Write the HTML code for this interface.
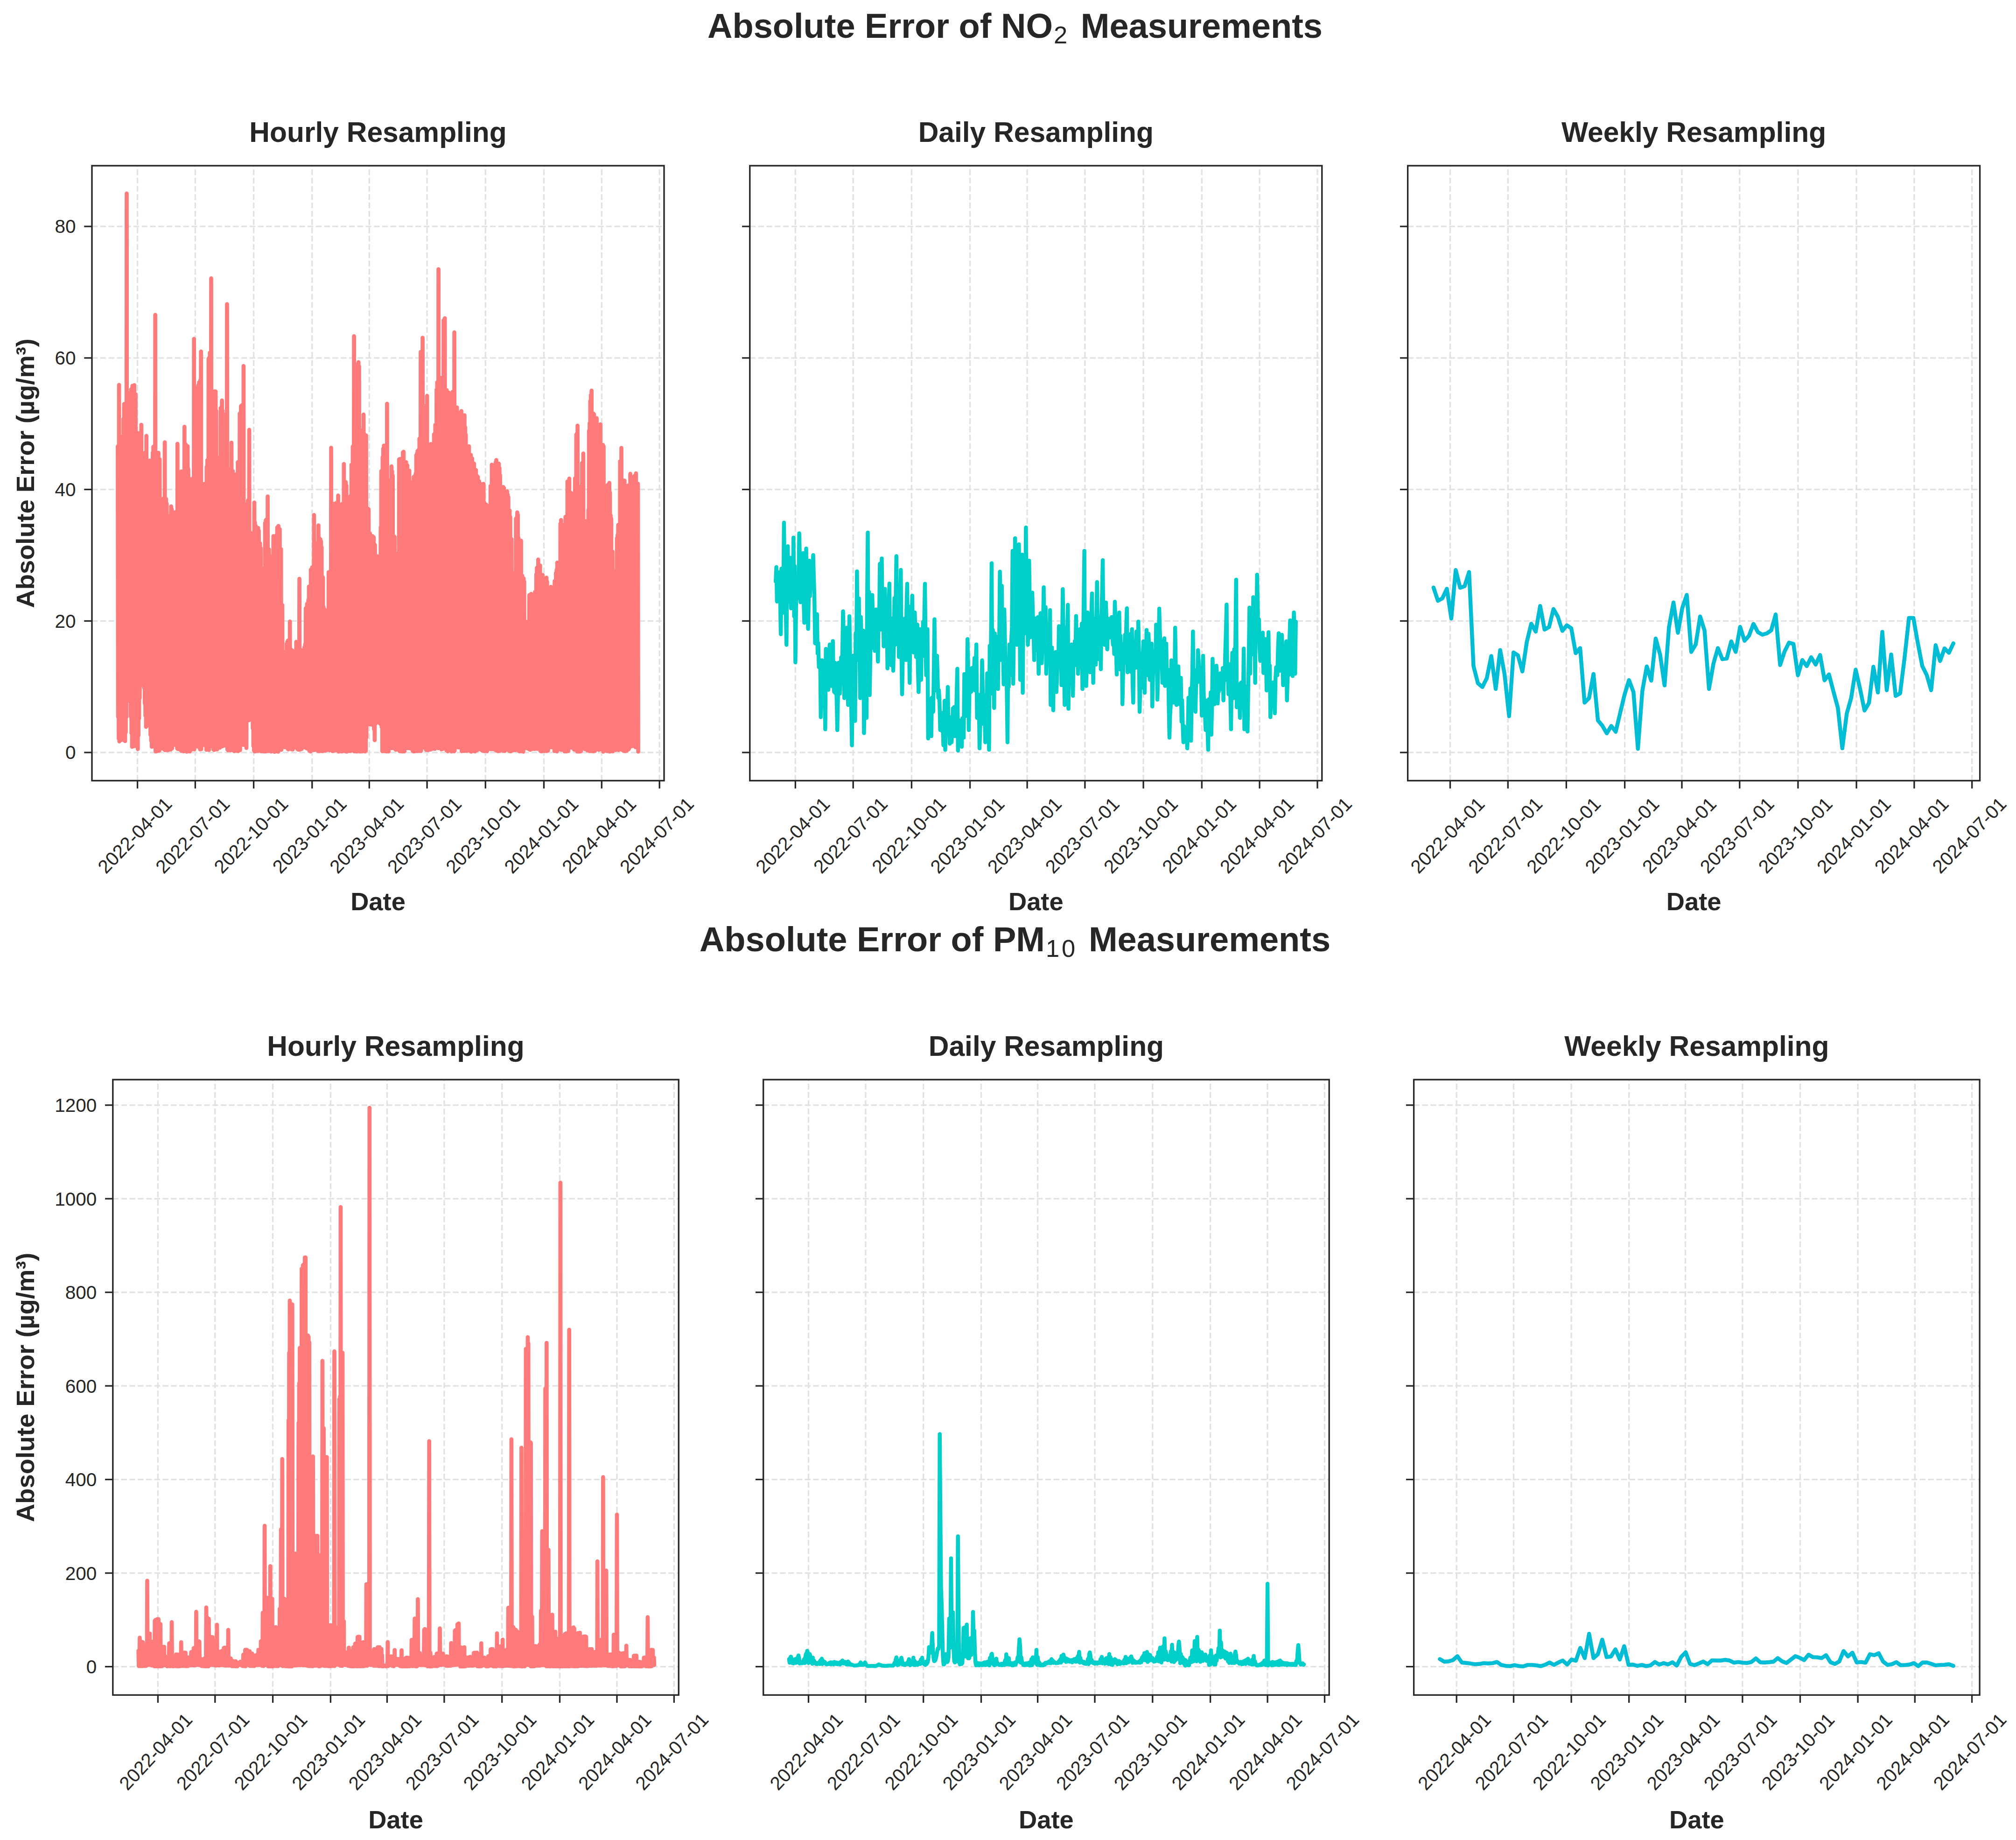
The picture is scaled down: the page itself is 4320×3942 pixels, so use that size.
<!DOCTYPE html>
<html><head><meta charset="utf-8"><title>Absolute Error</title>
<style>html,body{margin:0;padding:0;background:#fff}svg{display:block}</style></head>
<body>
<svg width="4320" height="3942" viewBox="0 0 4320 3942" font-family="'Liberation Sans', sans-serif" fill="#262626">
<rect width="4320" height="3942" fill="#fff"/>
<path d="M294.6 1672.5V355M418.4 1672.5V355M543.6 1672.5V355M668.8 1672.5V355M791.3 1672.5V355M915.1 1672.5V355M1040.3 1672.5V355M1165.5 1672.5V355M1289.3 1672.5V355M1413.2 1672.5V355M197 1612.1H1423M197 1330.3H1423M197 1048.6H1423M197 766.8H1423M197 485.1H1423" stroke="#e2e2e2" stroke-width="3.33" stroke-dasharray="12.4 5.37" fill="none"/>
<clipPath id="c1"><rect x="197" y="355" width="1226" height="1317.5"/></clipPath>
<g clip-path="url(#c1)">
<path d="M252.4 956.2L253.1 1535.9L253.8 960.5L254.5 1582.7L255.1 824.7L255.8 1588.5L256.5 947.2L257.2 1585.9L257.9 948.9L258.5 1586L259.2 952.2L259.9 1584.2L260.6 935.7L261.3 1584.9L261.9 952.2L262.6 1582.5L263.3 957.1L264 1584.2L264.7 897L265.3 1583.4L266 865.5L266.7 1586.5L267.4 874.9L268.1 1587.7L268.7 865.3L269.4 1569L270.1 897.7L270.8 1536.2L271.5 414.7L272.1 1502.2L272.8 868L273.5 1490L274.2 910.1L274.9 1492.9L275.5 909.3L276.2 1493.6L276.9 895.4L277.6 1494.1L278.3 893.7L279 1500.8L279.6 840.9L280.3 1534.9L281 834.2L281.7 1570.8L282.4 858.2L283 1599.9L283.7 826.6L284.4 1599L285.1 832.8L285.8 1598.8L286.4 835.2L287.1 1597.3L287.8 825.2L288.5 1597.7L289.2 845.7L289.8 1598.2L290.5 844.6L291.2 1594.5L291.9 941L292.6 1595.3L293.2 927.3L293.9 1595.8L294.6 934L295.3 1604.7L296 928L296.6 1575.8L297.3 969.3L298 1539.5L298.7 961.1L299.4 1495.6L300 953.9L300.7 1458.6L301.4 982.8L302.1 1458.6L302.8 910.1L303.4 1460.1L304.1 999.7L304.8 1465.3L305.5 994.6L306.2 1467.7L306.8 979.4L307.5 1468.3L308.2 976.1L308.9 1473.6L309.6 978.4L310.2 1507L310.9 969.9L311.6 1533.3L312.3 996.8L313 1557.2L313.7 933.9L314.3 1552L315 1018.5L315.7 1544.2L316.4 1001.2L317.1 1540.1L317.7 1022.7L318.4 1541.3L319.1 1018.5L319.8 1535.3L320.5 986.8L321.1 1555.4L321.8 996.2L322.5 1574.2L323.2 1022.4L323.9 1587L324.5 1006L325.2 1599.9L325.9 992.8L326.6 1599.5L327.3 969.8L327.9 1594.8L328.6 957L329.3 1593.8L330 979L330.7 1595L331.3 984.9L332 1593.6L332.7 674.5L333.4 1609.8L334.1 968.9L334.7 1610L335.4 978.5L336.1 1608.3L336.8 1003L337.5 1609L338.1 995L338.8 1607.6L339.5 970.1L340.2 1608.5L340.9 989.6L341.5 1608.2L342.2 984.1L342.9 1600.4L343.6 1068.6L344.3 1601L344.9 1092.7L345.6 1601.4L346.3 1141.7L347 1601.5L347.7 1080.2L348.4 1603.3L349 1076.5L349.7 1602.4L350.4 1068L351.1 1602.3L351.8 1085.9L352.4 1606.1L353.1 947.6L353.8 1607.2L354.5 1086.1L355.2 1606.8L355.8 1068.8L356.5 1606.9L357.2 1078.8L357.9 1607.5L358.6 1104.1L359.2 1605.6L359.9 1105.9L360.6 1607L361.3 1126L362 1606.2L362.6 1120.8L363.3 1605.1L364 1105.4L364.7 1604.7L365.4 1123.3L366 1605.8L366.7 1084.8L367.4 1604L368.1 1090.6L368.8 1603.2L369.4 1105.4L370.1 1593.6L370.8 1098.6L371.5 1592.9L372.2 1155.7L372.8 1594L373.5 1180.2L374.2 1595.7L374.9 1097.7L375.6 1593.8L376.2 1099.1L376.9 1593.4L377.6 1115.2L378.3 1595.3L379 1101.3L379.7 1603.6L380.3 950.9L381 1604.7L381.7 1047.9L382.4 1602.9L383.1 1048.5L383.7 1604.6L384.4 1065.2L385.1 1604.3L385.8 1053.7L386.5 1605.3L387.1 1109.8L387.8 1607.7L388.5 1010.2L389.2 1608.8L389.9 1013.3L390.5 1608.7L391.2 1031.9L391.9 1608.7L392.6 1014.4L393.3 1609.6L393.9 1017.7L394.6 1607.7L395.3 914.4L396 1607.4L396.7 953.3L397.3 1608L398 952.2L398.7 1607.6L399.4 982.3L400.1 1610.4L400.7 978.7L401.4 1608.3L402.1 956L402.8 1609.3L403.5 1005.1L404.1 1608.1L404.8 1025.4L405.5 1609.3L406.2 1032.8L406.9 1609.9L407.5 1026.3L408.2 1606L408.9 1053.1L409.6 1606.1L410.3 1050.7L410.9 1605.6L411.6 1040.8L412.3 1603.2L413 1034.3L413.7 1603.4L414.4 1023L415 1604.2L415.7 726L416.4 1605.3L417.1 864.7L417.8 1597.2L418.4 830.2L419.1 1598.1L419.8 852.4L420.5 1598L421.2 831.1L421.8 1597.6L422.5 858.1L423.2 1599.4L423.9 839.4L424.6 1598.7L425.2 824.8L425.9 1599.8L426.6 819.2L427.3 1598.3L428 845.4L428.6 1605.3L429.3 814L430 1604.3L430.7 753L431.4 1605L432 1047.1L432.7 1597.5L433.4 1057.4L434.1 1595.3L434.8 1049L435.4 1595.5L436.1 1037.3L436.8 1595.3L437.5 1059.7L438.2 1596.5L438.8 1042.7L439.5 1596.2L440.2 1036.2L440.9 1597.4L441.6 1044.9L442.2 1606.3L442.9 1000.3L443.6 1606.1L444.3 985.8L445 1605.9L445.6 990.1L446.3 1605.9L447 767.9L447.7 1606.7L448.4 778.4L449.1 1597.6L449.7 755.6L450.4 1598.9L451.1 767.6L451.8 1598.8L452.5 596.4L453.1 1598.5L453.8 877.8L454.5 1597.4L455.2 862.7L455.9 1598.6L456.5 864.3L457.2 1605.4L457.9 859.3L458.6 1606.6L459.3 838.5L459.9 1603.9L460.6 839.4L461.3 1605.7L462 838.6L462.7 1604.8L463.3 880.1L464 1605.3L464.7 1006.8L465.4 1605.5L466.1 1016.7L466.7 1601.3L467.4 981L468.1 1600.4L468.8 988.7L469.5 1602L470.1 982.7L470.8 1601.8L471.5 992.3L472.2 1600.9L472.9 874L473.5 1596.3L474.2 904.7L474.9 1597.8L475.6 858.2L476.3 1598.9L476.9 879.6L477.6 1596.5L478.3 888.2L479 1597.6L479.7 897.2L480.3 1597.3L481 889.8L481.7 1596.4L482.4 888.3L483.1 1593.5L483.8 892.3L484.4 1593.1L485.1 897.9L485.8 1594.6L486.5 651.7L487.2 1605.6L487.8 1015.6L488.5 1607.4L489.2 1023.6L489.9 1605.8L490.6 1022.5L491.2 1606.3L491.9 1005.6L492.6 1605.3L493.3 1019.5L494 1607.7L494.6 1022.2L495.3 1605.7L496 948.3L496.7 1597.3L497.4 1018L498 1597.7L498.7 1009L499.4 1598.1L500.1 1016.5L500.8 1608.4L501.4 1017.4L502.1 1609.2L502.8 1031.9L503.5 1606.7L504.2 1051.5L504.8 1606.9L505.5 1024L506.2 1608.2L506.9 1019.8L507.6 1608.3L508.2 1014.1L508.9 1607.6L509.6 990.2L510.3 1609.2L511 1003.4L511.6 1606.6L512.3 997.5L513 1606.6L513.7 885.9L514.4 1607.2L515 903.7L515.7 1594.9L516.4 869.9L517.1 1595.7L517.8 899.7L518.5 1595.5L519.1 867.5L519.8 1593.6L520.5 893.1L521.2 1593.7L521.9 784L522.5 1595.8L523.2 1079L523.9 1593.9L524.6 1094.1L525.3 1595.3L525.9 1087.6L526.6 1594.9L527.3 1091.4L528 1602.5L528.7 1101.3L529.3 1542.4L530 1079.8L530.7 1542.5L531.4 1071.9L532.1 1543.4L532.7 1081.3L533.4 1542.9L534.1 920.9L534.8 1541.3L535.5 1142.5L536.1 1540.9L536.8 1141.5L537.5 1536.6L538.2 1162.5L538.9 1538.4L539.5 1155.5L540.2 1536.7L540.9 1149.3L541.6 1560.5L542.3 1162.1L542.9 1598L543.6 1146L544.3 1607.7L545 1076.6L545.7 1609.9L546.3 1119L547 1608.2L547.7 1126L548.4 1609.5L549.1 1137.2L549.8 1608.2L550.4 1140.5L551.1 1607.8L551.8 1145.6L552.5 1609.1L553.2 1131L553.8 1608.2L554.5 1136.9L555.2 1604.8L555.9 1168.9L556.6 1604.6L557.2 1164.1L557.9 1602.7L558.6 1173.8L559.3 1609.5L560 1237.2L560.6 1607.9L561.3 1237.5L562 1608.5L562.7 1234.3L563.4 1609.7L564 1235.3L564.7 1607.2L565.4 1219.2L566.1 1609.7L566.8 1216.6L567.4 1607.2L568.1 1120.3L568.8 1609.9L569.5 1114.9L570.2 1608.7L570.8 1113.1L571.5 1607.1L572.2 1119.1L572.9 1609.2L573.6 1063.6L574.2 1608.6L574.9 1181.7L575.6 1607.2L576.3 1176.9L577 1608.7L577.6 1190.8L578.3 1608.6L579 1194.7L579.7 1608.3L580.4 1339.1L581 1610.2L581.7 1332.7L582.4 1608L583.1 1309.2L583.8 1608.8L584.5 1324.6L585.1 1607.9L585.8 1148.5L586.5 1608.9L587.2 1167.1L587.9 1610.7L588.5 1161.7L589.2 1610.4L589.9 1154.3L590.6 1608.3L591.3 1167.8L591.9 1607.9L592.6 1146.2L593.3 1609.7L594 1130.1L594.7 1609.2L595.3 1139.4L596 1610.5L596.7 1126.9L597.4 1604.3L598.1 1151L598.7 1604.8L599.4 1133.7L600.1 1605.3L600.8 1178.7L601.5 1604L602.1 1176.3L602.8 1606.3L603.5 1299.7L604.2 1601.4L604.9 1296.2L605.5 1600.5L606.2 1408L606.9 1599.8L607.6 1408.3L608.3 1600.1L608.9 1410.2L609.6 1601L610.3 1406L611 1599.6L611.7 1402.4L612.3 1599.6L613 1396L613.7 1601L614.4 1379.1L615.1 1600.1L615.7 1374.8L616.4 1604.1L617.1 1372.4L617.8 1605.5L618.5 1379L619.2 1603.9L619.8 1382.5L620.5 1603.5L621.2 1331.5L621.9 1603.9L622.6 1390.6L623.2 1603L623.9 1391.6L624.6 1605.1L625.3 1396.3L626 1605.2L626.6 1393.9L627.3 1605.6L628 1404.6L628.7 1599.4L629.4 1406.5L630 1598.8L630.7 1400.2L631.4 1598.4L632.1 1405.4L632.8 1600.8L633.4 1406.8L634.1 1600.6L634.8 1375.1L635.5 1600.4L636.2 1387.2L636.8 1603.9L637.5 1384.2L638.2 1605.6L638.9 1375.7L639.6 1605.8L640.2 1380.3L640.9 1605.3L641.6 1240.2L642.3 1606.1L643 1399.2L643.6 1605.3L644.3 1392L645 1604.4L645.7 1394.6L646.4 1604.7L647 1398.8L647.7 1600.4L648.4 1420.9L649.1 1600L649.8 1422.7L650.4 1600.4L651.1 1416.9L651.8 1600.8L652.5 1386.3L653.2 1601.2L653.9 1380L654.5 1601L655.2 1303.1L655.9 1601.2L656.6 1305L657.3 1603.4L657.9 1293.7L658.6 1602.3L659.3 1295.2L660 1602.4L660.7 1285.2L661.3 1602.9L662 1256.6L662.7 1608.2L663.4 1258.4L664.1 1608.6L664.7 1258.3L665.4 1610L666.1 1220.7L666.8 1605.3L667.5 1226.8L668.1 1607.5L668.8 1215.4L669.5 1606.9L670.2 1229.7L670.9 1604.9L671.5 1228.4L672.2 1607.2L672.9 1103.3L673.6 1606.4L674.3 1164.2L674.9 1606.7L675.6 1173.9L676.3 1606.3L677 1176.9L677.7 1594.5L678.3 1182.7L679 1594.4L679.7 1175.2L680.4 1593.6L681.1 1162.8L681.7 1609.1L682.4 1125.5L683.1 1608.2L683.8 1152.4L684.5 1609.2L685.1 1172.7L685.8 1608.5L686.5 1155.4L687.2 1607.1L687.9 1159.9L688.6 1608.8L689.2 1172.4L689.9 1608.9L690.6 1236.9L691.3 1609.5L692 1237.1L692.6 1608.2L693.3 1300.7L694 1607L694.7 1304.7L695.4 1607.8L696 1306.9L696.7 1608.3L697.4 1335.3L698.1 1607.2L698.8 1339.7L699.4 1607.3L700.1 1324L700.8 1606.3L701.5 1332.1L702.2 1605L702.8 1316.7L703.5 1606.3L704.2 1225.9L704.9 1605.1L705.6 1233L706.2 1607.3L706.9 1227.5L707.6 1605.7L708.3 1237.8L709 1605.7L709.6 959.3L710.3 1606.6L711 1232.9L711.7 1608.6L712.4 1096.6L713 1609.1L713.7 1087.3L714.4 1608.7L715.1 1079.3L715.8 1607L716.4 1081.5L717.1 1608L717.8 1096.6L718.5 1607.4L719.2 1100L719.8 1605.1L720.5 1077.5L721.2 1606.2L721.9 1098.4L722.6 1605.5L723.3 1102.2L723.9 1603.5L724.6 1061.6L725.3 1610.1L726 1098.8L726.7 1609.9L727.3 1086.9L728 1609.5L728.7 1097.6L729.4 1607.9L730.1 1096.6L730.7 1608.5L731.4 1098.2L732.1 1609.9L732.8 1079.8L733.5 1609.6L734.1 1109.9L734.8 1600.4L735.5 1095.4L736.2 1602.3L736.9 994.1L737.5 1602L738.2 1044L738.9 1600.2L739.6 1035.5L740.3 1609.7L740.9 1032.9L741.6 1609.5L742.3 1040.1L743 1610.4L743.7 1121.6L744.3 1606.8L745 1135.5L745.7 1607.5L746.4 1131.9L747.1 1608.9L747.7 1157.1L748.4 1607.9L749.1 1291.6L749.8 1608.4L750.5 1063.4L751.1 1609L751.8 1070.3L752.5 1606.3L753.2 995.6L753.9 1606.1L754.6 1007L755.2 1605.5L755.9 956.8L756.6 1605.3L757.3 960.3L758 1608.3L758.6 720.3L759.3 1609.6L760 792.3L760.7 1608.2L761.4 786L762 1608.4L762.7 807.3L763.4 1610L764.1 822.8L764.8 1609.8L765.4 781.2L766.1 1609.6L766.8 813.9L767.5 1608.3L768.2 775.9L768.8 1608.9L769.5 784.5L770.2 1609.3L770.9 942.1L771.6 1610.1L772.2 960.8L772.9 1609.3L773.6 930L774.3 1608.6L775 931.4L775.6 1610L776.3 942.4L777 1608.8L777.7 920.9L778.4 1609L779 888.2L779.7 1608.3L780.4 929.7L781.1 1607.8L781.8 945.7L782.4 1609.8L783.1 935L783.8 1608.7L784.5 932.8L785.2 1579.7L785.8 1093.3L786.5 1552.3L787.2 1090.3L787.9 1550.9L788.6 1089.9L789.3 1550.4L789.9 1091.1L790.6 1551.6L791.3 1153.2L792 1550.4L792.7 1142.7L793.3 1551.9L794 1147.2L794.7 1550.3L795.4 1159.3L796.1 1552.3L796.7 1159.5L797.4 1551.2L798.1 1148.5L798.8 1551.2L799.5 1157.7L800.1 1549.6L800.8 1150.8L801.5 1562.7L802.2 1184.2L802.9 1585.6L803.5 1167.3L804.2 1551.1L804.9 1202.8L805.6 1549.4L806.3 1204.6L806.9 1545.6L807.6 1207L808.3 1546L809 1191.9L809.7 1545.3L810.3 1211.1L811 1545L811.7 1226L812.4 1545.8L813.1 1208.7L813.7 1549.4L814.4 1227.8L815.1 1551L815.8 1129.5L816.5 1549.2L817.1 1009.4L817.8 1557.7L818.5 1013.3L819.2 1609.3L819.9 979.6L820.5 1607L821.2 961L821.9 1607L822.6 954.6L823.3 1609.2L824 982.2L824.6 1608.9L825.3 965.9L826 1609.2L826.7 980.5L827.4 1609.7L828 954.1L828.7 1609.9L829.4 865L830.1 1609.7L830.8 1067L831.4 1609.6L832.1 1044.2L832.8 1609.8L833.5 1050.5L834.2 1603.4L834.8 1066.9L835.5 1602.6L836.2 1028.5L836.9 1602.2L837.6 1030.6L838.2 1601.1L838.9 999L839.6 1602.9L840.3 1009.7L841 1602.3L841.6 1019.1L842.3 1601.2L843 1158.8L843.7 1601.7L844.4 1163.9L845 1602.1L845.7 1150L846.4 1604.4L847.1 1185.6L847.8 1606.1L848.4 1186.5L849.1 1606.1L849.8 1220.5L850.5 1604.9L851.2 1232.6L851.8 1604.9L852.5 1231.8L853.2 1603.4L853.9 1233L854.6 1605.1L855.2 984L855.9 1608.9L856.6 985.5L857.3 1609.5L858 983L858.7 1609.3L859.3 1007.3L860 1607.5L860.7 1013L861.4 1610L862.1 1001.4L862.7 1609.8L863.4 969.1L864.1 1609.7L864.8 967.8L865.5 1608.4L866.1 1016.2L866.8 1609.7L867.5 997.6L868.2 1594.9L868.9 1009.1L869.5 1597.8L870.2 990.2L870.9 1596.2L871.6 995.6L872.3 1602.7L872.9 997.4L873.6 1602.5L874.3 1021.8L875 1602.7L875.7 1028L876.3 1601.9L877 1008.3L877.7 1601.4L878.4 1033.2L879.1 1603.3L879.7 1038.4L880.4 1603.3L881.1 1088.5L881.8 1601.7L882.5 1033.8L883.1 1603.4L883.8 1043.9L884.5 1608.9L885.2 1032L885.9 1609.6L886.5 1021.9L887.2 1609.5L887.9 1020.9L888.6 1609.6L889.3 1032.7L890 1609L890.6 1014.9L891.3 1608L892 975.4L892.7 1607.6L893.4 971.7L894 1609.2L894.7 966.2L895.4 1607.2L896.1 972.5L896.8 1607.9L897.4 963.2L898.1 1608.8L898.8 939.8L899.5 1608.7L900.2 947.8L900.8 1608.5L901.5 754.2L902.2 1608.9L902.9 779.6L903.6 1599.9L904.2 770.2L904.9 1599.6L905.6 723.6L906.3 1600.1L907 937.6L907.6 1599.9L908.3 930.5L909 1601.6L909.7 931.9L910.4 1600L911 888.5L911.7 1601L912.4 869.8L913.1 1606.7L913.8 892.3L914.4 1604.6L915.1 848.1L915.8 1604.6L916.5 976.8L917.2 1607.1L917.8 979.6L918.5 1606.5L919.2 979.6L919.9 1605.7L920.6 965.3L921.2 1604.8L921.9 977.9L922.6 1606L923.3 951.3L924 1603.5L924.7 962.1L925.3 1602.6L926 967.1L926.7 1604.1L927.4 982.1L928.1 1602.1L928.7 995.2L929.4 1604L930.1 930.6L930.8 1603L931.5 930L932.1 1604.3L932.8 910.1L933.5 1601.7L934.2 940.6L934.9 1601.3L935.5 834.8L936.2 1600.7L936.9 818.9L937.6 1600.8L938.3 834.5L938.9 1602.8L939.6 576.9L940.3 1602.1L941 815.7L941.7 1601.2L942.3 808.6L943 1602.5L943.7 838.8L944.4 1602.6L945.1 821.1L945.7 1605.3L946.4 824L947.1 1605L947.8 864.3L948.5 1604.6L949.1 874.6L949.8 1602.3L950.5 686.4L951.2 1601.7L951.9 719.3L952.5 1602.4L953.2 681.8L953.9 1600.8L954.6 845.4L955.3 1600.6L955.9 852.2L956.6 1607.3L957.3 835.8L958 1607.7L958.7 842.5L959.4 1609.7L960 854.1L960.7 1599.7L961.4 841.2L962.1 1602.3L962.8 925.4L963.4 1601.7L964.1 952.8L964.8 1602.6L965.5 937.9L966.2 1601L966.8 915.6L967.5 1610L968.2 935.4L968.9 1608.9L969.6 839.5L970.2 1607.6L970.9 860L971.6 1608.3L972.3 842.8L973 1609.6L973.6 712.2L974.3 1608.1L975 874.3L975.7 1599L976.4 897.5L977 1600.7L977.7 904.7L978.4 1599.8L979.1 872.9L979.8 1600.3L980.4 912.3L981.1 1599.5L981.8 884.5L982.5 1601.5L983.2 898.2L983.8 1598.6L984.5 884.9L985.2 1597.6L985.9 899.9L986.6 1597.6L987.2 905L987.9 1599L988.6 880.6L989.3 1609.1L990 919.7L990.6 1607.4L991.3 892.1L992 1608.7L992.7 896.8L993.4 1607.2L994.1 900L994.7 1608.9L995.4 889.7L996.1 1608.5L996.8 915.6L997.5 1607.5L998.1 931.3L998.8 1607.5L999.5 976.1L1000.2 1608.7L1000.9 965.2L1001.5 1597.8L1002.2 982.3L1002.9 1598.5L1003.6 967.3L1004.3 1598.2L1004.9 956.2L1005.6 1608L1006.3 1027.9L1007 1607.4L1007.7 1020.7L1008.3 1609.2L1009 974.7L1009.7 1610.3L1010.4 997.8L1011.1 1609.3L1011.7 982.1L1012.4 1608.7L1013.1 1001.8L1013.8 1609L1014.5 996L1015.1 1608.7L1015.8 993.4L1016.5 1608.8L1017.2 1028.3L1017.9 1609.8L1018.5 1026.7L1019.2 1607.8L1019.9 1007.2L1020.6 1608L1021.3 1037.5L1021.9 1607.7L1022.6 1020.2L1023.3 1603L1024 1021.9L1024.7 1605.7L1025.3 1056.9L1026 1603.2L1026.7 1031.1L1027.4 1603L1028.1 1041L1028.8 1604.2L1029.4 1054.1L1030.1 1603.8L1030.8 1046.5L1031.5 1606.5L1032.2 1037.4L1032.8 1607.8L1033.5 1050L1034.2 1607.2L1034.9 1044.2L1035.6 1608.7L1036.2 1036.6L1036.9 1608.1L1037.6 1076.7L1038.3 1609.1L1039 1093.2L1039.6 1608.3L1040.3 1089L1041 1608.3L1041.7 1080.9L1042.4 1608.5L1043 1082.5L1043.7 1609.5L1044.4 1151.3L1045.1 1604.5L1045.8 1139.8L1046.4 1604L1047.1 1091.7L1047.8 1604.2L1048.5 1099L1049.2 1603.6L1049.8 1092.2L1050.5 1605L1051.2 1041L1051.9 1603.9L1052.6 1052.2L1053.2 1605.2L1053.9 995.6L1054.6 1603.8L1055.3 1009.2L1056 1604.6L1056.6 996.7L1057.3 1605L1058 1014.5L1058.7 1604.5L1059.4 1012.8L1060 1604.6L1060.7 1009.1L1061.4 1606.6L1062.1 990.4L1062.8 1607.7L1063.5 985.7L1064.1 1608.2L1064.8 1015.1L1065.5 1608.6L1066.2 1009.5L1066.9 1609.3L1067.5 1003.4L1068.2 1607.6L1068.9 993.3L1069.6 1607.8L1070.3 1002.8L1070.9 1608.7L1071.6 1018.2L1072.3 1601.8L1073 1142.9L1073.7 1600.2L1074.3 1068.2L1075 1600.8L1075.7 1069.6L1076.4 1600.4L1077.1 1062.8L1077.7 1608.4L1078.4 1043.3L1079.1 1607.8L1079.8 1045.4L1080.5 1608.3L1081.1 1070.6L1081.8 1608.8L1082.5 1082.3L1083.2 1605.7L1083.9 1081L1084.5 1605.9L1085.2 1052.8L1085.9 1605.3L1086.6 1052.5L1087.3 1604L1087.9 1059.6L1088.6 1606.3L1089.3 1064.8L1090 1604.3L1090.7 1110.1L1091.3 1608.9L1092 1093.8L1092.7 1608.9L1093.4 1107.5L1094.1 1609.7L1094.8 1154.5L1095.4 1609.2L1096.1 1154.9L1096.8 1607.8L1097.5 1274.4L1098.2 1606.1L1098.8 1271.8L1099.5 1607.7L1100.2 1276.6L1100.9 1607.4L1101.6 1271.2L1102.2 1606.2L1102.9 1273.4L1103.6 1605.3L1104.3 1226L1105 1607.2L1105.6 1110.9L1106.3 1600L1107 1123.2L1107.7 1601.6L1108.4 1097.8L1109 1599.4L1109.7 1102.6L1110.4 1599.6L1111.1 1152.6L1111.8 1608.8L1112.4 1171.7L1113.1 1609.6L1113.8 1166.6L1114.5 1609.3L1115.2 1173.7L1115.8 1608.5L1116.5 1158.4L1117.2 1609.4L1117.9 1237.3L1118.6 1607.7L1119.2 1233.5L1119.9 1607.9L1120.6 1249.3L1121.3 1610.3L1122 1239.2L1122.6 1602.2L1123.3 1245.8L1124 1601.6L1124.7 1342.4L1125.4 1602.3L1126 1331L1126.7 1602.4L1127.4 1334.8L1128.1 1602.9L1128.8 1337.6L1129.5 1601.8L1130.1 1340.6L1130.8 1601.8L1131.5 1335.9L1132.2 1602L1132.9 1334.9L1133.5 1605.2L1134.2 1275.2L1134.9 1605.7L1135.6 1291L1136.3 1606.4L1136.9 1274.8L1137.6 1597.2L1138.3 1272.3L1139 1596.3L1139.7 1282.1L1140.3 1594.7L1141 1280.5L1141.7 1604.3L1142.4 1284L1143.1 1603.5L1143.7 1276.1L1144.4 1603.2L1145.1 1285.9L1145.8 1604.7L1146.5 1268.2L1147.1 1602L1147.8 1271.1L1148.5 1602.6L1149.2 1230.3L1149.9 1602.2L1150.5 1216.4L1151.2 1604.5L1151.9 1221.7L1152.6 1598.2L1153.3 1198.8L1153.9 1597.3L1154.6 1224.8L1155.3 1597.6L1156 1214.8L1156.7 1597.7L1157.3 1211.4L1158 1609L1158.7 1258.1L1159.4 1609.2L1160.1 1266.1L1160.7 1609.6L1161.4 1237.6L1162.1 1608.7L1162.8 1231.9L1163.5 1608.2L1164.2 1245.5L1164.8 1608.7L1165.5 1241.3L1166.2 1609.1L1166.9 1249.3L1167.6 1598.9L1168.2 1249.8L1168.9 1598.6L1169.6 1248.6L1170.3 1597.5L1171 1237.6L1171.6 1609.2L1172.3 1246.1L1173 1608.2L1173.7 1292.2L1174.4 1607.9L1175 1292.4L1175.7 1598.5L1176.4 1354.5L1177.1 1598.8L1177.8 1276.8L1178.4 1599.4L1179.1 1276L1179.8 1600.7L1180.5 1257.4L1181.2 1600.1L1181.8 1259.8L1182.5 1600.9L1183.2 1259.9L1183.9 1594.9L1184.6 1280.6L1185.2 1597.1L1185.9 1281.2L1186.6 1596.9L1187.3 1303.4L1188 1609L1188.6 1244.9L1189.3 1607.6L1190 1253.1L1190.7 1608.3L1191.4 1227.3L1192 1607.5L1192.7 1221.1L1193.4 1610L1194.1 1205.4L1194.8 1607.2L1195.4 1234.2L1196.1 1605.5L1196.8 1225.2L1197.5 1603.6L1198.2 1238.8L1198.9 1603.5L1199.5 1284.9L1200.2 1604.8L1200.9 1121.8L1201.6 1606.1L1202.3 1114.1L1202.9 1606.4L1203.6 1124.1L1204.3 1606L1205 1125L1205.7 1605.7L1206.3 1125.7L1207 1606.6L1207.7 1134.6L1208.4 1607.9L1209.1 1125.1L1209.7 1609.8L1210.4 1129.7L1211.1 1608.1L1211.8 1107.2L1212.5 1608.8L1213.1 1131.3L1213.8 1609.8L1214.5 1138.5L1215.2 1608.7L1215.9 1031.6L1216.5 1607.8L1217.2 1031.5L1217.9 1608.8L1218.6 1054.4L1219.3 1593.8L1219.9 1025.4L1220.6 1593.6L1221.3 1054.3L1222 1594.8L1222.7 1072.8L1223.3 1601.2L1224 1056.3L1224.7 1601.6L1225.4 1184L1226.1 1601L1226.7 1136L1227.4 1600.7L1228.1 1124L1228.8 1600L1229.5 1120L1230.1 1606L1230.8 1136.3L1231.5 1604.7L1232.2 1024.8L1232.9 1606.5L1233.6 1033.6L1234.2 1605.5L1234.9 931L1235.6 1606.9L1236.3 928.6L1237 1610.1L1237.6 911.9L1238.3 1607.9L1239 1049L1239.7 1607.6L1240.4 1042.7L1241 1610.2L1241.7 1044.3L1242.4 1608.5L1243.1 1138.1L1243.8 1609.8L1244.4 1175.2L1245.1 1609.1L1245.8 1180.9L1246.5 1600.6L1247.2 992.1L1247.8 1601.1L1248.5 1008L1249.2 1602.2L1249.9 971.6L1250.6 1601.1L1251.2 1117.3L1251.9 1603.6L1252.6 1115.8L1253.3 1604.8L1254 1116.7L1254.6 1603.6L1255.3 1211L1256 1605.5L1256.7 1277.3L1257.4 1603.7L1258 1270.5L1258.7 1607.8L1259.4 1198.6L1260.1 1605.5L1260.8 1092.5L1261.4 1607.4L1262.1 923.2L1262.8 1609.2L1263.5 906.7L1264.2 1606.9L1264.9 859L1265.5 1607.2L1266.2 846.3L1266.9 1609.2L1267.6 836.9L1268.3 1607.6L1268.9 922.2L1269.6 1608.2L1270.3 895.2L1271 1609.5L1271.7 886L1272.3 1609.5L1273 887.6L1273.7 1608.4L1274.4 913.2L1275.1 1608.6L1275.7 907.5L1276.4 1593.5L1277.1 935.1L1277.8 1593.4L1278.5 895.9L1279.1 1594L1279.8 927.4L1280.5 1595.5L1281.2 919.3L1281.9 1595.8L1282.5 960.4L1283.2 1606.5L1283.9 965.6L1284.6 1605.4L1285.3 941.4L1285.9 1605.6L1286.6 909L1287.3 1604.5L1288 965.4L1288.7 1594.7L1289.3 970.4L1290 1593.4L1290.7 983.4L1291.4 1594L1292.1 953.4L1292.7 1610.3L1293.4 956.3L1294.1 1607.5L1294.8 1086.7L1295.5 1608.5L1296.1 1087.7L1296.8 1608.1L1297.5 1041.7L1298.2 1607.7L1298.9 1058.4L1299.6 1609L1300.2 1052.6L1300.9 1608.8L1301.6 1039.7L1302.3 1609L1303 1038.3L1303.6 1609.2L1304.3 1041.7L1305 1608.2L1305.7 1034.7L1306.4 1610.1L1307 1055.1L1307.7 1609.9L1308.4 1103.5L1309.1 1608.4L1309.8 1110.9L1310.4 1608.5L1311.1 1190.6L1311.8 1608.2L1312.5 1181.6L1313.2 1609.6L1313.8 1281.7L1314.5 1608L1315.2 1294.3L1315.9 1604.7L1316.6 1297.9L1317.2 1606L1317.9 1286.5L1318.6 1606.9L1319.3 1356.9L1320 1606.2L1320.6 1222L1321.3 1606.2L1322 1153.2L1322.7 1604.8L1323.4 1145.8L1324 1604.7L1324.7 1124.6L1325.4 1607L1326.1 1151L1326.8 1604.8L1327.4 1143.6L1328.1 1606L1328.8 988L1329.5 1604L1330.2 993.4L1330.8 1605.5L1331.5 959.5L1332.2 1604.9L1332.9 1035L1333.6 1606L1334.3 1060.2L1334.9 1607.9L1335.6 1048.5L1336.3 1608.3L1337 1033.7L1337.7 1608.9L1338.3 1029.7L1339 1608.8L1339.7 1045.8L1340.4 1609.1L1341.1 1042.3L1341.7 1608.1L1342.4 1062.7L1343.1 1608.4L1343.8 1059.8L1344.5 1605L1345.1 1056.1L1345.8 1605.2L1346.5 1039.9L1347.2 1605.1L1347.9 1039.9L1348.5 1602.8L1349.2 1045.6L1349.9 1599.4L1350.6 1015.2L1351.3 1596.9L1351.9 1037.4L1352.6 1598.3L1353.3 1022.4L1354 1598.6L1354.7 1026.8L1355.3 1598L1356 1048.1L1356.7 1597.3L1357.4 1021.9L1358.1 1597L1358.7 1031.6L1359.4 1598.6L1360.1 1019.4L1360.8 1599.8L1361.5 1041.6L1362.1 1600.8L1362.8 1014L1363.5 1598.9L1364.2 1036.3L1364.9 1600L1365.5 1037.2L1366.2 1600.3L1366.9 1036.3L1367.6 1610.3" stroke="#ff7a7a" stroke-width="8.7" fill="none" stroke-linejoin="round" stroke-linecap="round"/>
</g>
<path d="M294.6 1672.5v16.7M418.4 1672.5v16.7M543.6 1672.5v16.7M668.8 1672.5v16.7M791.3 1672.5v16.7M915.1 1672.5v16.7M1040.3 1672.5v16.7M1165.5 1672.5v16.7M1289.3 1672.5v16.7M1413.2 1672.5v16.7M197 1612.1h-16.7M197 1330.3h-16.7M197 1048.6h-16.7M197 766.8h-16.7M197 485.1h-16.7" stroke="#262626" stroke-width="3.33" fill="none"/>
<rect x="197" y="355" width="1226" height="1317.5" fill="none" stroke="#262626" stroke-width="3.33"/>
<text x="162.5" y="1626.4" text-anchor="end" font-size="40.5">0</text>
<text x="162.5" y="1344.6" text-anchor="end" font-size="40.5">20</text>
<text x="162.5" y="1062.9" text-anchor="end" font-size="40.5">40</text>
<text x="162.5" y="781.1" text-anchor="end" font-size="40.5">60</text>
<text x="162.5" y="499.4" text-anchor="end" font-size="40.5">80</text>
<text transform="translate(72.5 1013.8) rotate(-90)" text-anchor="middle" font-size="54.3" font-weight="bold">Absolute Error (µg/m³)</text>
<text transform="translate(288.6 1789.3) rotate(-46.0)" text-anchor="middle" font-size="40.5" dy="0.355em">2022-04-01</text>
<text transform="translate(412.4 1789.3) rotate(-46.0)" text-anchor="middle" font-size="40.5" dy="0.355em">2022-07-01</text>
<text transform="translate(537.6 1789.3) rotate(-46.0)" text-anchor="middle" font-size="40.5" dy="0.355em">2022-10-01</text>
<text transform="translate(662.8 1789.3) rotate(-46.0)" text-anchor="middle" font-size="40.5" dy="0.355em">2023-01-01</text>
<text transform="translate(785.3 1789.3) rotate(-46.0)" text-anchor="middle" font-size="40.5" dy="0.355em">2023-04-01</text>
<text transform="translate(909.1 1789.3) rotate(-46.0)" text-anchor="middle" font-size="40.5" dy="0.355em">2023-07-01</text>
<text transform="translate(1034.3 1789.3) rotate(-46.0)" text-anchor="middle" font-size="40.5" dy="0.355em">2023-10-01</text>
<text transform="translate(1159.5 1789.3) rotate(-46.0)" text-anchor="middle" font-size="40.5" dy="0.355em">2024-01-01</text>
<text transform="translate(1283.3 1789.3) rotate(-46.0)" text-anchor="middle" font-size="40.5" dy="0.355em">2024-04-01</text>
<text transform="translate(1407.2 1789.3) rotate(-46.0)" text-anchor="middle" font-size="40.5" dy="0.355em">2024-07-01</text>
<text x="810" y="1949.9" text-anchor="middle" font-size="54.3" font-weight="bold">Date</text>
<text x="810" y="303.8" text-anchor="middle" font-size="60.5" font-weight="bold">Hourly Resampling</text>
<path d="M1704.4 1672.5V355M1828.2 1672.5V355M1953.4 1672.5V355M2078.6 1672.5V355M2201.1 1672.5V355M2324.9 1672.5V355M2450.1 1672.5V355M2575.3 1672.5V355M2699.1 1672.5V355M2823 1672.5V355M1606.8 1612.1H2832.8M1606.8 1330.3H2832.8M1606.8 1048.6H2832.8M1606.8 766.8H2832.8M1606.8 485.1H2832.8" stroke="#e2e2e2" stroke-width="3.33" stroke-dasharray="12.4 5.37" fill="none"/>
<clipPath id="c2"><rect x="1606.8" y="355" width="1226" height="1317.5"/></clipPath>
<g clip-path="url(#c2)">
<path d="M1662.2 1245.8L1663.6 1215L1664.9 1288.7L1666.3 1246.3L1667.7 1247.2L1669 1253L1670.4 1225.7L1671.7 1282L1673.1 1358.7L1674.5 1218.3L1675.8 1314L1677.2 1222.2L1678.5 1290.5L1679.9 1119.8L1681.3 1241.4L1682.6 1231.3L1684 1314.9L1685.3 1381.5L1686.7 1214.8L1688.1 1170.3L1689.4 1288.7L1690.8 1255.9L1692.2 1228.5L1693.5 1195.3L1694.9 1303.3L1696.2 1224.1L1697.6 1281.4L1699 1274.9L1700.3 1151.8L1701.7 1320.7L1703 1212.9L1704.4 1419L1705.8 1305.1L1707.1 1247.3L1708.5 1281.9L1709.8 1240.2L1711.2 1264L1712.6 1142.6L1713.9 1192.5L1715.3 1290.3L1716.6 1246.4L1718 1210.5L1719.4 1281.7L1720.7 1185L1722.1 1286.2L1723.5 1334.3L1724.8 1250.5L1726.2 1278.2L1727.5 1175.2L1728.9 1255.3L1730.3 1252.4L1731.6 1347.3L1733 1278L1734.3 1201.3L1735.7 1277.2L1737.1 1230.3L1738.4 1243.4L1739.8 1257.7L1741.1 1234.7L1742.5 1189.2L1743.9 1237.4L1745.2 1284L1746.6 1378.3L1747.9 1339.3L1749.3 1373.8L1750.7 1316L1752 1400.1L1753.4 1377.7L1754.7 1429.4L1756.1 1420.6L1757.5 1414.3L1758.8 1536.4L1760.2 1479.5L1761.6 1414.8L1762.9 1442L1764.3 1499.2L1765.6 1507.1L1767 1455.1L1768.4 1562.4L1769.7 1390.3L1771.1 1449.2L1772.4 1453.4L1773.8 1412.8L1775.2 1477.7L1776.5 1408.5L1777.9 1380.6L1779.2 1443.9L1780.6 1418.2L1782 1469.6L1783.3 1417.4L1784.7 1373.4L1786 1452.5L1787.4 1482.4L1788.8 1419.7L1790.1 1485.3L1791.5 1449.6L1792.9 1500.5L1794.2 1564.1L1795.6 1494.5L1796.9 1419.7L1798.3 1436.2L1799.7 1485.8L1801 1452L1802.4 1408.3L1803.7 1446.7L1805.1 1393.5L1806.5 1309.8L1807.8 1360.9L1809.2 1495.6L1810.5 1434.7L1811.9 1379.6L1813.3 1454.4L1814.6 1344.7L1816 1400.5L1817.3 1510.3L1818.7 1446.4L1820.1 1320.3L1821.4 1396.9L1822.8 1435.9L1824.2 1519.1L1825.5 1596.7L1826.9 1476.8L1828.2 1405L1829.6 1493.6L1831 1484.9L1832.3 1544.5L1833.7 1356.1L1835 1401.2L1836.4 1224.1L1837.8 1379.8L1839.1 1414.1L1840.5 1282.1L1841.8 1401.5L1843.2 1495.6L1844.6 1321.9L1845.9 1367.1L1847.3 1479.3L1848.6 1383.4L1850 1351.2L1851.4 1570.6L1852.7 1499.9L1854.1 1390.3L1855.4 1457.2L1856.8 1538L1858.2 1279.7L1859.5 1141L1860.9 1405L1862.3 1268.4L1863.6 1489.1L1865 1402.5L1866.3 1300.9L1867.7 1388.3L1869.1 1274.6L1870.4 1324L1871.8 1356.1L1873.1 1329.7L1874.5 1394.6L1875.9 1358.1L1877.2 1305.6L1878.6 1329.3L1879.9 1365.1L1881.3 1417.4L1882.7 1314.2L1884 1324.7L1885.4 1207.8L1886.7 1349L1888.1 1263.3L1889.5 1196.4L1890.8 1313.7L1892.2 1271.5L1893.6 1384.8L1894.9 1306.1L1896.3 1261.6L1897.6 1340.3L1899 1320.9L1900.4 1330.1L1901.7 1432.1L1903.1 1364.9L1904.4 1307.1L1905.8 1250.2L1907.2 1376.3L1908.5 1382.5L1909.9 1425.5L1911.2 1325.2L1912.6 1346.3L1914 1437L1915.3 1384.3L1916.7 1281.2L1918 1381.5L1919.4 1284.6L1920.8 1191.5L1922.1 1330.6L1923.5 1352.2L1924.8 1266.5L1926.2 1407.6L1927.6 1370.8L1928.9 1314.6L1930.3 1220.9L1931.7 1404.8L1933 1487.5L1934.4 1411.8L1935.7 1357.2L1937.1 1394L1938.5 1325.2L1939.8 1331.2L1941.2 1414.1L1942.5 1306.8L1943.9 1250.8L1945.3 1378.5L1946.6 1298.7L1948 1382.8L1949.3 1463L1950.7 1309.6L1952.1 1376.8L1953.4 1342.7L1954.8 1276.3L1956.1 1366.1L1957.5 1397.8L1958.9 1373.4L1960.2 1312.1L1961.6 1356.6L1963 1407.6L1964.3 1366.2L1965.7 1338.2L1967 1433.2L1968.4 1482.6L1969.8 1396.9L1971.1 1348L1972.5 1433.1L1973.8 1456.5L1975.2 1354.3L1976.6 1405.9L1977.9 1332.2L1979.3 1402.1L1980.6 1324.4L1982 1250.8L1983.4 1382.3L1984.7 1446.7L1986.1 1387.8L1987.4 1348L1988.8 1582L1990.2 1541.2L1991.5 1522.7L1992.9 1497.9L1994.3 1525.1L1995.6 1577.1L1997 1494.6L1998.3 1522.8L1999.7 1525L2001.1 1434.4L2002.4 1326.8L2003.8 1441.2L2005.1 1479.3L2006.5 1415.3L2007.9 1405L2009.2 1453.5L2010.6 1495.1L2011.9 1478.8L2013.3 1505.8L2014.7 1564.1L2016 1538.7L2017.4 1527.2L2018.7 1566.3L2020.1 1545.3L2021.5 1596.7L2022.8 1577.8L2024.2 1501.2L2025.5 1606.4L2026.9 1527.9L2028.3 1561.2L2029.6 1529L2031 1471.8L2032.4 1568L2033.7 1558L2035.1 1593.4L2036.4 1537L2037.8 1548.1L2039.2 1590.2L2040.5 1556.9L2041.9 1517.5L2043.2 1563.3L2044.6 1514.8L2046 1577.1L2047.3 1553.8L2048.7 1548.4L2050 1486L2051.4 1432.7L2052.8 1608.1L2054.1 1542.1L2055.5 1573.7L2056.8 1561.5L2058.2 1566.3L2059.6 1578.9L2060.9 1599.9L2062.3 1538.6L2063.7 1539.7L2065 1580.4L2066.4 1444.1L2067.7 1477.5L2069.1 1534.1L2070.5 1458.7L2071.8 1509.6L2073.2 1369.2L2074.5 1424.4L2075.9 1564.1L2077.3 1481.9L2078.6 1461.2L2080 1450.9L2081.3 1482L2082.7 1431.1L2084.1 1449.9L2085.4 1471.2L2086.8 1449.9L2088.1 1409.9L2089.5 1479.3L2090.9 1423.7L2092.2 1380.6L2093.6 1538L2094.9 1521.6L2096.3 1488.1L2097.7 1508.2L2099 1603.2L2100.4 1558.4L2101.8 1511.3L2103.1 1525L2104.5 1414.8L2105.8 1473.5L2107.2 1550.7L2108.6 1488.7L2109.9 1517.3L2111.3 1590.2L2112.6 1506.7L2114 1560.5L2115.4 1442.5L2116.7 1483.2L2118.1 1551.9L2119.4 1606.4L2120.8 1383.5L2122.2 1486.7L2123.5 1377.7L2124.9 1206.8L2126.2 1445.6L2127.6 1349.7L2129 1457.5L2130.3 1516.8L2131.7 1357.3L2133.1 1457.3L2134.4 1391.6L2135.8 1367.5L2137.1 1445L2138.5 1476.1L2139.9 1362.4L2141.2 1369.3L2142.6 1224.8L2143.9 1282.8L2145.3 1414.1L2146.7 1255.1L2148 1393.6L2149.4 1393.4L2150.7 1466.3L2152.1 1305.6L2153.5 1372.7L2154.8 1453.6L2156.2 1421.5L2157.5 1480.6L2158.9 1590.2L2160.3 1414.4L2161.6 1471.1L2163 1380.6L2164.4 1389.7L2165.7 1446.7L2167.1 1370.6L2168.4 1343.9L2169.8 1180.1L2171.2 1464.7L2172.5 1347.9L2173.9 1243.4L2175.2 1153.1L2176.6 1242.8L2178 1291.8L2179.3 1381.5L2180.7 1254.3L2182 1343.5L2183.4 1166.1L2184.8 1284L2186.1 1456.5L2187.5 1348.8L2188.8 1365.7L2190.2 1188.3L2191.6 1484.2L2192.9 1284.2L2194.3 1358L2195.6 1234.6L2197 1311.8L2198.4 1130.2L2199.7 1332.9L2201.1 1233.3L2202.5 1381.5L2203.8 1335.7L2205.2 1201.3L2206.5 1284.7L2207.9 1365.2L2209.3 1324.7L2210.6 1339.1L2212 1269.7L2213.3 1316.6L2214.7 1350.6L2216.1 1414.1L2217.4 1324.7L2218.8 1393.2L2220.1 1354.6L2221.5 1387.6L2222.9 1365L2224.2 1321.9L2225.6 1443.5L2226.9 1391.7L2228.3 1380.8L2229.7 1313.7L2231 1353.3L2232.4 1420.7L2233.8 1370.7L2235.1 1337.5L2236.5 1258.3L2237.8 1365.8L2239.2 1322.5L2240.6 1300.7L2241.9 1443.5L2243.3 1395.3L2244.6 1356.7L2246 1414.1L2247.4 1396.3L2248.7 1367.1L2250.1 1307.2L2251.4 1510.3L2252.8 1401.9L2254.2 1387.1L2255.5 1469.2L2256.9 1521.7L2258.2 1423.1L2259.6 1456.5L2261 1440.1L2262.3 1396.9L2263.7 1482.6L2265 1452.2L2266.4 1411.4L2267.8 1425.7L2269.1 1341.5L2270.5 1377.1L2271.9 1406.8L2273.2 1347.5L2274.6 1467.9L2275.9 1392.4L2277.3 1262.2L2278.7 1351.3L2280 1418.7L2281.4 1510.3L2282.7 1345.2L2284.1 1457.1L2285.5 1351.7L2286.8 1372.2L2288.2 1295.8L2289.5 1518.4L2290.9 1384.1L2292.3 1461.4L2293.6 1445.6L2295 1416.6L2296.3 1380.6L2297.7 1439.4L2299.1 1490.7L2300.4 1405.1L2301.8 1425.8L2303.2 1373.3L2304.5 1403.3L2305.9 1319.6L2307.2 1381.4L2308.6 1360.3L2310 1443.5L2311.3 1412.8L2312.7 1381.5L2314 1348L2315.4 1410.6L2316.8 1414.4L2318.1 1336L2319.5 1476.1L2320.8 1395.5L2322.2 1288.2L2323.6 1180.1L2324.9 1407.2L2326.3 1330.8L2327.6 1469.6L2329 1419.4L2330.4 1312.1L2331.7 1359.5L2333.1 1342.3L2334.5 1345.2L2335.8 1440.2L2337.2 1395L2338.5 1324.5L2339.9 1271.4L2341.3 1361.3L2342.6 1463L2344 1386.7L2345.3 1325.2L2346.7 1387.3L2348.1 1423.9L2349.4 1325.1L2350.8 1246.9L2352.1 1355L2353.5 1321.7L2354.9 1412.5L2356.2 1388.1L2357.6 1325.2L2358.9 1433.7L2360.3 1319.4L2361.7 1265.4L2363 1200.3L2364.4 1352.8L2365.7 1294L2367.1 1381.5L2368.5 1356.5L2369.8 1290.9L2371.2 1337.6L2372.6 1391.3L2373.9 1351.4L2375.3 1325.6L2376.6 1366.4L2378 1364.6L2379.4 1363.8L2380.7 1343.3L2382.1 1321.9L2383.4 1359.1L2384.8 1381.5L2386.2 1338.3L2387.5 1401.1L2388.9 1289.3L2390.2 1325.2L2391.6 1389.8L2393 1445.1L2394.3 1369.6L2395.7 1408.5L2397 1409.7L2398.4 1312.1L2399.8 1434.1L2401.1 1362.1L2402.5 1432.1L2403.9 1380.3L2405.2 1508.7L2406.6 1444.4L2407.9 1379.9L2409.3 1406.1L2410.7 1359.9L2412 1419.7L2413.4 1340.3L2414.7 1303.3L2416.1 1440.2L2417.5 1410.2L2418.8 1359.2L2420.2 1358.8L2421.5 1373.8L2422.9 1439L2424.3 1402.5L2425.6 1348L2427 1463.9L2428.3 1505.4L2429.7 1381.7L2431.1 1431.6L2432.4 1393.8L2433.8 1383.6L2435.1 1352.9L2436.5 1430.4L2437.9 1420.9L2439.2 1331.7L2440.6 1395.8L2442 1525L2443.3 1470.7L2444.7 1401.3L2446 1473.5L2447.4 1419.6L2448.8 1411L2450.1 1374L2451.5 1438.3L2452.8 1484.2L2454.2 1390.9L2455.6 1417.4L2456.9 1349.6L2458.3 1426.6L2459.6 1446.7L2461 1357.8L2462.4 1386.8L2463.7 1456.5L2465.1 1431.3L2466.4 1400.4L2467.8 1378.9L2469.2 1513.6L2470.5 1455.1L2471.9 1394.8L2473.3 1439.2L2474.6 1400.5L2476 1437.9L2477.3 1338.2L2478.7 1384.9L2480.1 1498.9L2481.4 1442.9L2482.8 1390.1L2484.1 1304L2485.5 1357.3L2486.9 1381L2488.2 1373L2489.6 1414.1L2490.9 1463L2492.3 1382.9L2493.7 1421L2495 1367.5L2496.4 1469.6L2497.7 1419.7L2499.1 1378.9L2500.5 1457.1L2501.8 1448.4L2503.2 1435L2504.6 1514.9L2505.9 1580.4L2507.3 1532.9L2508.6 1512.6L2510 1414.8L2511.4 1457.2L2512.7 1459.6L2514.1 1505.4L2515.4 1418.1L2516.8 1462L2518.2 1344.7L2519.5 1428.4L2520.9 1510.3L2522.2 1473.7L2523.6 1457.1L2525 1427.8L2526.3 1481.6L2527.7 1508.7L2529 1499.7L2530.4 1452.3L2531.8 1546.1L2533.1 1500.3L2534.5 1554.2L2535.8 1590.2L2537.2 1555.8L2538.6 1578.8L2539.9 1566.4L2541.3 1584.8L2542.7 1561.3L2544 1603.2L2545.4 1571.4L2546.7 1494.6L2548.1 1511.8L2549.5 1540.3L2550.8 1474.8L2552.2 1586.9L2553.5 1493.7L2554.9 1448.5L2556.3 1352.9L2557.6 1467.1L2559 1442.8L2560.3 1498L2561.7 1525L2563.1 1464.6L2564.4 1435.4L2565.8 1461.7L2567.1 1393L2568.5 1413.3L2569.9 1446.7L2571.2 1434.2L2572.6 1429.7L2574 1471.4L2575.3 1533.1L2576.7 1483.1L2578 1405L2579.4 1488.1L2580.8 1512.9L2582.1 1530.7L2583.5 1564.1L2584.8 1501.2L2586.2 1520.7L2587.6 1564.8L2588.9 1606.4L2590.3 1497.9L2591.6 1524.3L2593 1543.6L2594.4 1483.2L2595.7 1573.9L2597.1 1515L2598.4 1411.5L2599.8 1468.8L2601.2 1454.9L2602.5 1508.7L2603.9 1444.4L2605.2 1455L2606.6 1426.2L2608 1450.8L2609.3 1507L2610.7 1475.7L2612.1 1481L2613.4 1454.2L2614.8 1442.5L2616.1 1475.8L2617.5 1443L2618.9 1470L2620.2 1431.1L2621.6 1500.5L2622.9 1432.7L2624.3 1457.1L2625.7 1391.7L2627 1353.2L2628.4 1295.2L2629.7 1440.2L2631.1 1435.7L2632.5 1487.5L2633.8 1432.6L2635.2 1422.9L2636.5 1493L2637.9 1562.4L2639.3 1458L2640.6 1398.5L2642 1456.8L2643.4 1495.6L2644.7 1390.7L2646.1 1453.6L2647.4 1367.4L2648.8 1242L2650.2 1515.2L2651.5 1479L2652.9 1465.3L2654.2 1488.8L2655.6 1486.6L2657 1538L2658.3 1502.4L2659.7 1462.1L2661 1467.9L2662.4 1511.9L2663.8 1498L2665.1 1389.4L2666.5 1562.4L2667.8 1485.4L2669.2 1471.8L2670.6 1511.6L2671.9 1470.5L2673.3 1567.3L2674.7 1475.9L2676 1404.9L2677.4 1301.7L2678.7 1443.5L2680.1 1376.9L2681.5 1349.8L2682.8 1387L2684.2 1401.9L2685.5 1279.5L2686.9 1341.5L2688.3 1320.8L2689.6 1463L2691 1294.6L2692.3 1367.2L2693.7 1231.3L2695.1 1294.1L2696.4 1373L2697.8 1327.3L2699.1 1390.3L2700.5 1415.8L2701.9 1387.7L2703.2 1373L2704.6 1402.4L2705.9 1355.5L2707.3 1441.8L2708.7 1397.8L2710 1416.3L2711.4 1369.2L2712.8 1407.6L2714.1 1479.3L2715.5 1461.7L2716.8 1413.2L2718.2 1354.5L2719.6 1477.2L2720.9 1426L2722.3 1536.4L2723.6 1493.7L2725 1476.1L2726.4 1512.9L2727.7 1462.1L2729.1 1472.5L2730.4 1494.4L2731.8 1528.2L2733.2 1454.8L2734.5 1429.5L2735.9 1439.2L2737.2 1446.7L2738.6 1390.2L2740 1356.8L2741.3 1418.9L2742.7 1437L2744.1 1385.4L2745.4 1422.7L2746.8 1360L2748.1 1392.8L2749.5 1467.9L2750.9 1447.2L2752.2 1417L2753.6 1434L2754.9 1413.4L2756.3 1374L2757.7 1500.5L2759 1460.2L2760.4 1410.7L2761.7 1446L2763.1 1373.8L2764.5 1329.1L2765.8 1410.6L2767.2 1360.8L2768.5 1420.6L2769.9 1448.4L2771.3 1371.2L2772.6 1312.1L2774 1367.4L2775.3 1443.5L2776.7 1331.7" stroke="#00cec9" stroke-width="8.4" fill="none" stroke-linejoin="round" stroke-linecap="round"/>
</g>
<path d="M1704.4 1672.5v16.7M1828.2 1672.5v16.7M1953.4 1672.5v16.7M2078.6 1672.5v16.7M2201.1 1672.5v16.7M2324.9 1672.5v16.7M2450.1 1672.5v16.7M2575.3 1672.5v16.7M2699.1 1672.5v16.7M2823 1672.5v16.7M1606.8 1612.1h-16.7M1606.8 1330.3h-16.7M1606.8 1048.6h-16.7M1606.8 766.8h-16.7M1606.8 485.1h-16.7" stroke="#262626" stroke-width="3.33" fill="none"/>
<rect x="1606.8" y="355" width="1226" height="1317.5" fill="none" stroke="#262626" stroke-width="3.33"/>
<text transform="translate(1698.4 1789.3) rotate(-46.0)" text-anchor="middle" font-size="40.5" dy="0.355em">2022-04-01</text>
<text transform="translate(1822.2 1789.3) rotate(-46.0)" text-anchor="middle" font-size="40.5" dy="0.355em">2022-07-01</text>
<text transform="translate(1947.4 1789.3) rotate(-46.0)" text-anchor="middle" font-size="40.5" dy="0.355em">2022-10-01</text>
<text transform="translate(2072.6 1789.3) rotate(-46.0)" text-anchor="middle" font-size="40.5" dy="0.355em">2023-01-01</text>
<text transform="translate(2195.1 1789.3) rotate(-46.0)" text-anchor="middle" font-size="40.5" dy="0.355em">2023-04-01</text>
<text transform="translate(2318.9 1789.3) rotate(-46.0)" text-anchor="middle" font-size="40.5" dy="0.355em">2023-07-01</text>
<text transform="translate(2444.1 1789.3) rotate(-46.0)" text-anchor="middle" font-size="40.5" dy="0.355em">2023-10-01</text>
<text transform="translate(2569.3 1789.3) rotate(-46.0)" text-anchor="middle" font-size="40.5" dy="0.355em">2024-01-01</text>
<text transform="translate(2693.1 1789.3) rotate(-46.0)" text-anchor="middle" font-size="40.5" dy="0.355em">2024-04-01</text>
<text transform="translate(2817 1789.3) rotate(-46.0)" text-anchor="middle" font-size="40.5" dy="0.355em">2024-07-01</text>
<text x="2219.8" y="1949.9" text-anchor="middle" font-size="54.3" font-weight="bold">Date</text>
<text x="2219.8" y="303.8" text-anchor="middle" font-size="60.5" font-weight="bold">Daily Resampling</text>
<path d="M3107.5 1672.5V355M3231.3 1672.5V355M3356.4 1672.5V355M3481.6 1672.5V355M3604 1672.5V355M3727.8 1672.5V355M3852.9 1672.5V355M3978.1 1672.5V355M4101.9 1672.5V355M4225.7 1672.5V355M3016.6 1612.1H4242.6M3016.6 1330.3H4242.6M3016.6 1048.6H4242.6M3016.6 766.8H4242.6M3016.6 485.1H4242.6" stroke="#e2e2e2" stroke-width="3.33" stroke-dasharray="12.4 5.37" fill="none"/>
<clipPath id="c3"><rect x="3016.6" y="355" width="1226" height="1317.5"/></clipPath>
<g clip-path="url(#c3)">
<path d="M3071.8 1258.7L3081.3 1287.2L3090.8 1281.8L3100.4 1261.4L3109.9 1325.2L3119.4 1221.2L3128.9 1259.2L3138.4 1255.9L3148 1225.5L3157.5 1427.1L3167 1463.8L3176.5 1471.9L3186 1452.9L3195.6 1405.4L3205.1 1476L3214.6 1392.6L3224.1 1444.8L3233.7 1534.4L3243.2 1397.8L3252.7 1404L3262.2 1438.5L3271.7 1375.5L3281.3 1336.1L3290.8 1353.2L3300.3 1298.1L3309.8 1348.9L3319.4 1343.4L3328.9 1304.8L3338.4 1321.7L3347.9 1351.6L3357.4 1339.6L3367 1346.1L3376.5 1399.4L3386 1388.5L3395.5 1505.3L3405.1 1495.6L3414.6 1443.9L3424.1 1543.4L3433.6 1554.8L3443.1 1571.1L3452.7 1555.3L3462.2 1567.8L3471.7 1527.6L3481.2 1488.2L3490.7 1457L3500.3 1482.8L3509.8 1604.2L3519.3 1480.1L3528.8 1427.6L3538.4 1458.3L3547.9 1367.9L3557.4 1402.6L3566.9 1468.4L3576.4 1343.4L3586 1290.7L3595.5 1355.7L3605 1302.1L3614.5 1274.4L3624.1 1396.7L3633.6 1380.9L3643.1 1320.6L3652.6 1351L3662.1 1476L3671.7 1421.7L3681.2 1388.5L3690.7 1412.2L3700.2 1410.8L3709.8 1374.1L3719.3 1396.7L3728.8 1342.9L3738.3 1372.8L3747.8 1361.9L3757.4 1336.6L3766.9 1354.3L3776.4 1359.7L3785.9 1357L3795.4 1350.5L3805 1316.3L3814.5 1424.9L3824 1395.9L3833.5 1376.8L3843.1 1379.6L3852.6 1446.7L3862.1 1414.1L3871.6 1427.1L3881.1 1408.1L3890.7 1423.8L3900.2 1403.2L3909.7 1457.5L3919.2 1444.8L3928.8 1481.4L3938.3 1516.7L3947.8 1603.1L3957.3 1529L3966.8 1495L3976.4 1434.7L3985.9 1476L3995.4 1522.2L4004.9 1505.9L4014.4 1428.5L4024 1483.6L4033.5 1353.7L4043 1478.7L4052.5 1402.1L4062.1 1490.9L4071.6 1485.5L4081.1 1410.3L4090.6 1323.9L4100.1 1323.9L4109.7 1378.2L4119.2 1427.1L4128.7 1446.1L4138.2 1478.7L4147.8 1382.3L4157.3 1416.2L4166.8 1389.1L4176.3 1398.6L4185.8 1378.2" stroke="#00bcd4" stroke-width="8.4" fill="none" stroke-linejoin="round" stroke-linecap="round"/>
</g>
<path d="M3107.5 1672.5v16.7M3231.3 1672.5v16.7M3356.4 1672.5v16.7M3481.6 1672.5v16.7M3604 1672.5v16.7M3727.8 1672.5v16.7M3852.9 1672.5v16.7M3978.1 1672.5v16.7M4101.9 1672.5v16.7M4225.7 1672.5v16.7M3016.6 1612.1h-16.7M3016.6 1330.3h-16.7M3016.6 1048.6h-16.7M3016.6 766.8h-16.7M3016.6 485.1h-16.7" stroke="#262626" stroke-width="3.33" fill="none"/>
<rect x="3016.6" y="355" width="1226" height="1317.5" fill="none" stroke="#262626" stroke-width="3.33"/>
<text transform="translate(3101.5 1789.3) rotate(-46.0)" text-anchor="middle" font-size="40.5" dy="0.355em">2022-04-01</text>
<text transform="translate(3225.3 1789.3) rotate(-46.0)" text-anchor="middle" font-size="40.5" dy="0.355em">2022-07-01</text>
<text transform="translate(3350.4 1789.3) rotate(-46.0)" text-anchor="middle" font-size="40.5" dy="0.355em">2022-10-01</text>
<text transform="translate(3475.6 1789.3) rotate(-46.0)" text-anchor="middle" font-size="40.5" dy="0.355em">2023-01-01</text>
<text transform="translate(3598 1789.3) rotate(-46.0)" text-anchor="middle" font-size="40.5" dy="0.355em">2023-04-01</text>
<text transform="translate(3721.8 1789.3) rotate(-46.0)" text-anchor="middle" font-size="40.5" dy="0.355em">2023-07-01</text>
<text transform="translate(3846.9 1789.3) rotate(-46.0)" text-anchor="middle" font-size="40.5" dy="0.355em">2023-10-01</text>
<text transform="translate(3972.1 1789.3) rotate(-46.0)" text-anchor="middle" font-size="40.5" dy="0.355em">2024-01-01</text>
<text transform="translate(4095.9 1789.3) rotate(-46.0)" text-anchor="middle" font-size="40.5" dy="0.355em">2024-04-01</text>
<text transform="translate(4219.7 1789.3) rotate(-46.0)" text-anchor="middle" font-size="40.5" dy="0.355em">2024-07-01</text>
<text x="3629.6" y="1949.9" text-anchor="middle" font-size="54.3" font-weight="bold">Date</text>
<text x="3629.6" y="303.8" text-anchor="middle" font-size="60.5" font-weight="bold">Weekly Resampling</text>
<path d="M338.4 3631.4V2313M460.8 3631.4V2313M584.6 3631.4V2313M708.4 3631.4V2313M829.5 3631.4V2313M951.9 3631.4V2313M1075.7 3631.4V2313M1199.5 3631.4V2313M1322 3631.4V2313M1444.4 3631.4V2313M241.8 3570.7H1454.3M241.8 3370.2H1454.3M241.8 3169.7H1454.3M241.8 2969.2H1454.3M241.8 2768.7H1454.3M241.8 2568.2H1454.3M241.8 2367.7H1454.3" stroke="#e2e2e2" stroke-width="3.33" stroke-dasharray="12.4 5.37" fill="none"/>
<clipPath id="c4"><rect x="241.8" y="2313" width="1212.5" height="1318.4"/></clipPath>
<g clip-path="url(#c4)">
<path d="M296.7 3536.6L297.4 3569.4L298 3536.8L298.7 3568.9L299.4 3508.6L300.1 3569.4L300.7 3517.6L301.4 3568.9L302.1 3517.4L302.7 3569L303.4 3518L304.1 3569.4L304.8 3517.8L305.4 3568.9L306.1 3518.7L306.8 3568.9L307.5 3527.7L308.1 3568.3L308.8 3527.6L309.5 3569L310.1 3527.5L310.8 3568.3L311.5 3527.7L312.2 3568.9L312.8 3527L313.5 3568.7L314.2 3527.4L314.9 3566.1L315.5 3386.5L316.2 3566L316.9 3501.6L317.5 3565.9L318.2 3499.7L318.9 3566.6L319.6 3501.4L320.2 3566.4L320.9 3499.8L321.6 3566.5L322.3 3522.6L322.9 3566.3L323.6 3522.1L324.3 3567.9L324.9 3522.2L325.6 3568.2L326.3 3522.8L327 3568L327.6 3517.4L328.3 3567.9L329 3517.5L329.7 3568.2L330.3 3518.8L331 3570L331.7 3472L332.3 3569.6L333 3470.7L333.7 3569.7L334.4 3473.4L335 3569.5L335.7 3471.3L336.4 3569.9L337.1 3468.8L337.7 3570L338.4 3469.7L339.1 3570L339.7 3468.9L340.4 3569.4L341.1 3479.7L341.8 3569.9L342.4 3480.6L343.1 3569.4L343.8 3479.3L344.5 3569.4L345.1 3530.8L345.8 3569.8L346.5 3530L347.1 3569.6L347.8 3528L348.5 3567L349.2 3528.8L349.8 3566.9L350.5 3528.3L351.2 3567.4L351.9 3528.3L352.5 3567.3L353.2 3550L353.9 3567.2L354.5 3549.9L355.2 3567L355.9 3549.9L356.6 3567.3L357.2 3550.7L357.9 3569.8L358.6 3551.1L359.3 3569.6L359.9 3551.2L360.6 3569.4L361.3 3551.2L361.9 3569.3L362.6 3520.6L363.3 3569.1L364 3520.1L364.6 3569.7L365.3 3520.1L366 3569L366.7 3520.6L367.3 3569.1L368 3475.3L368.7 3569.3L369.3 3552.8L370 3569.7L370.7 3552.9L371.4 3569.9L372 3553L372.7 3569.4L373.4 3553L374.1 3569.2L374.7 3553.2L375.4 3569.3L376.1 3553L376.7 3569.3L377.4 3544.5L378.1 3569.4L378.8 3545.1L379.4 3569.9L380.1 3544.8L380.8 3569.6L381.5 3544.8L382.1 3570L382.8 3552.9L383.5 3569.7L384.1 3553L384.8 3569.7L385.5 3553L386.2 3569.5L386.8 3553.2L387.5 3569.1L388.2 3518.4L388.9 3568.8L389.5 3542.8L390.2 3568.4L390.9 3542.5L391.5 3568.8L392.2 3542.9L392.9 3569.2L393.6 3542.4L394.2 3568.5L394.9 3540.6L395.6 3568.6L396.3 3540.6L396.9 3569.1L397.6 3540.9L398.3 3569.5L398.9 3551.8L399.6 3569.1L400.3 3552L401 3569.2L401.6 3551.9L402.3 3569.5L403 3551.9L403.7 3567.9L404.3 3550.9L405 3568L405.7 3551.2L406.3 3567.8L407 3550.9L407.7 3567.5L408.4 3551.2L409 3567.6L409.7 3539.4L410.4 3567.5L411.1 3540.1L411.7 3567.7L412.4 3539.6L413.1 3567.5L413.7 3539.4L414.4 3567.4L415.1 3530.8L415.8 3568.1L416.4 3531L417.1 3567.7L417.8 3529.9L418.5 3567.7L419.1 3530.2L419.8 3566.9L420.5 3453.2L421.1 3567L421.8 3516.9L422.5 3566.5L423.2 3516.8L423.8 3566.7L424.5 3516.4L425.2 3566.6L425.9 3516.4L426.5 3567.1L427.2 3517.4L427.9 3566.9L428.5 3555.3L429.2 3566.8L429.9 3555.3L430.6 3567.1L431.2 3555.1L431.9 3569.4L432.6 3554.9L433.3 3569.1L433.9 3559.2L434.6 3569.2L435.3 3559.3L435.9 3569.6L436.6 3559.4L437.3 3569.6L438 3553.1L438.6 3569.5L439.3 3552.9L440 3569.9L440.7 3553L441.3 3569.8L442 3443.8L442.7 3569.3L443.3 3467.2L444 3569.7L444.7 3466.1L445.4 3569.7L446 3468.2L446.7 3569.8L447.4 3468.1L448.1 3566.4L448.7 3513.4L449.4 3566.9L450.1 3513.7L450.7 3566.5L451.4 3514.7L452.1 3566.9L452.8 3507.1L453.4 3566.6L454.1 3508.4L454.8 3567.1L455.5 3507.5L456.1 3566.6L456.8 3545L457.5 3566.5L458.1 3545L458.8 3566.7L459.5 3544.6L460.2 3567.8L460.8 3515.7L461.5 3567.4L462.2 3515.7L462.9 3568.1L463.5 3516.4L464.2 3567.8L464.9 3480.9L465.5 3567.7L466.2 3540.4L466.9 3567.7L467.6 3541.1L468.2 3567.4L468.9 3540.7L469.6 3568.1L470.3 3540.5L470.9 3566.9L471.6 3538.6L472.3 3567.2L472.9 3539.2L473.6 3566.9L474.3 3538.8L475 3567.2L475.6 3536.8L476.3 3567.1L477 3537.1L477.7 3567.3L478.3 3537.1L479 3567.1L479.7 3530.4L480.4 3567.9L481 3530L481.7 3568.2L482.4 3530.2L483 3567.8L483.7 3537L484.4 3568.5L485.1 3536.9L485.7 3567.7L486.4 3536.7L487.1 3568.2L487.8 3536.5L488.4 3568.3L489.1 3491.9L489.8 3568.1L490.4 3553.2L491.1 3568.4L491.8 3553.1L492.5 3568L493.1 3552.8L493.8 3567.9L494.5 3553.1L495.2 3568.2L495.8 3558.3L496.5 3569.6L497.2 3558.3L497.8 3569.5L498.5 3558.3L499.2 3569.5L499.9 3559.4L500.5 3569.7L501.2 3559.3L501.9 3569.3L502.6 3559.3L503.2 3569.4L503.9 3559.2L504.6 3569.8L505.2 3559.1L505.9 3569.7L506.6 3562.3L507.3 3569.9L507.9 3562.3L508.6 3569.8L509.3 3562.4L510 3566.5L510.6 3562.4L511.3 3566.7L512 3562.3L512.6 3566.8L513.3 3562.3L514 3566.6L514.7 3560.1L515.3 3567L516 3560.2L516.7 3566.6L517.4 3560.3L518 3566.8L518.7 3560.2L519.4 3569.1L520 3560.2L520.7 3569.3L521.4 3544.8L522.1 3569.2L522.7 3544.7L523.4 3569L524.1 3545L524.8 3569.4L525.4 3534.6L526.1 3569.6L526.8 3534.5L527.4 3566.9L528.1 3534.7L528.8 3566.8L529.5 3535.2L530.1 3566.5L530.8 3537.9L531.5 3567.1L532.2 3537.8L532.8 3566.8L533.5 3538.1L534.2 3566.9L534.8 3537.5L535.5 3568.9L536.2 3542.4L536.9 3568.9L537.5 3542.7L538.2 3569L538.9 3542.7L539.6 3569.2L540.2 3542.5L540.9 3569L541.6 3551.1L542.2 3568.9L542.9 3550.9L543.6 3569.1L544.3 3550.8L544.9 3569.1L545.6 3546.8L546.3 3567L547 3547.2L547.6 3566.9L548.3 3546.5L549 3566.7L549.6 3545.8L550.3 3567.4L551 3545.7L551.7 3566.9L552.3 3545.7L553 3566.8L553.7 3534.5L554.4 3567.2L555 3534.3L555.7 3567.2L556.4 3535L557 3566.3L557.7 3534.6L558.4 3566.8L559.1 3516.4L559.7 3566.6L560.4 3515.5L561.1 3568.6L561.8 3516L562.4 3568.4L563.1 3455L563.8 3568.6L564.4 3455.8L565.1 3569.1L565.8 3453.7L566.5 3566.5L567.1 3268.9L567.8 3566.4L568.5 3425.4L569.2 3566.5L569.8 3425.2L570.5 3566.6L571.2 3422.5L571.8 3566.5L572.5 3423.9L573.2 3567.1L573.9 3427L574.5 3569.9L575.2 3425.4L575.9 3569.7L576.6 3426.6L577.2 3569.8L577.9 3426.6L578.6 3569.9L579.2 3355.3L579.9 3569.8L580.6 3426.1L581.3 3569.9L581.9 3426.6L582.6 3569.7L583.3 3425.2L584 3570.2L584.6 3487.9L585.3 3569.9L586 3486.9L586.6 3569.1L587.3 3487L588 3569L588.7 3486.6L589.3 3568.7L590 3486.5L590.7 3569.2L591.4 3486L592 3568.8L592.7 3490.8L593.4 3569.3L594 3491.6L594.7 3569.4L595.4 3490.9L596.1 3569.5L596.7 3490.6L597.4 3567.1L598.1 3492.4L598.8 3566.9L599.4 3446.6L600.1 3567.3L600.8 3449L601.4 3566.8L602.1 3276.8L602.8 3566.8L603.5 3274.9L604.1 3566.9L604.8 3125.9L605.5 3569.4L606.2 3428.3L606.8 3569L607.5 3425.7L608.2 3569L608.8 3424.9L609.5 3569.2L610.2 3427.1L610.9 3569.2L611.5 3428L612.2 3569.7L612.9 3427L613.6 3569.2L614.2 3427.8L614.9 3569.6L615.6 3426.1L616.2 3569.2L616.9 3427L617.6 3569.9L618.3 3042.8L618.9 3570.1L619.6 2898.2L620.3 3570.1L621 2786.3L621.6 3569.7L622.3 2803.7L623 3569.3L623.6 2804.1L624.3 3570.1L625 2813.6L625.7 3569.8L626.3 2794.7L627 3567.9L627.7 3329.6L628.4 3568.2L629 3329.9L629.7 3567.6L630.4 3335.2L631 3567.7L631.7 3331.9L632.4 3568.2L633.1 3328.5L633.7 3567.8L634.4 3334.2L635.1 3568L635.8 3334.5L636.4 3567.9L637.1 3334.1L637.8 3567.2L638.4 3330.7L639.1 3567.3L639.8 3048.1L640.5 3567.2L641.1 2963.3L641.8 3567.5L642.5 2887.5L643.2 3566.9L643.8 2905L644.5 3567.3L645.2 2904.4L645.8 3567.2L646.5 2718L647.2 3567.2L647.9 2732.5L648.5 3567.3L649.2 2710.4L649.9 3567.8L650.6 2715.5L651.2 3567.3L651.9 2707.9L652.6 3567.4L653.2 2694L653.9 3567.6L654.6 2693.8L655.3 3567.8L655.9 2876.5L656.6 3567.6L657.3 2867.5L658 3567.8L658.6 2865.3L659.3 3569L660 2861.3L660.6 3569.1L661.3 2864L662 3569L662.7 2875.8L663.3 3569.5L664 3196.7L664.7 3569.2L665.4 3190.9L666 3569.2L666.7 3197.6L667.4 3569.4L668 3195.9L668.7 3569.4L669.4 3194.9L670.1 3569.6L670.7 3120.3L671.4 3568L672.1 3291.2L672.8 3568.4L673.4 3292.4L674.1 3568.5L674.8 3289.9L675.4 3568.1L676.1 3291L676.8 3568.4L677.5 3291L678.1 3568L678.8 3292.4L679.5 3568.5L680.2 3290.3L680.8 3568.2L681.5 3331.1L682.2 3568L682.8 3331.9L683.5 3569.8L684.2 3335.3L684.9 3569.4L685.5 3332.1L686.2 3569.4L686.9 3336.8L687.6 3568.4L688.2 3333.6L688.9 3568.1L689.6 3336.3L690.2 3567.9L690.9 2915.5L691.6 3567.9L692.3 3064.1L692.9 3568.2L693.6 3059.8L694.3 3568.7L695 3273.8L695.6 3569L696.3 3273.6L697 3568.7L697.6 3275.4L698.3 3568.8L699 3485.5L699.7 3569L700.3 3121.6L701 3568.7L701.7 3483.8L702.4 3568.9L703 3483.6L703.7 3569.3L704.4 3483.8L705 3569.6L705.7 3482.3L706.4 3569.4L707.1 3482.2L707.7 3569.1L708.4 3482.1L709.1 3569.4L709.8 3482.7L710.4 3569L711.1 3482.4L711.8 3569.2L712.4 3484.3L713.1 3568.7L713.8 3484.1L714.5 3568.7L715.1 3485L715.8 3569.2L716.5 2895.1L717.2 3569.1L717.8 3488.2L718.5 3566L719.2 3488.7L719.8 3565.8L720.5 3486.4L721.2 3566L721.9 3486.9L722.5 3565.9L723.2 3488.8L723.9 3565.9L724.6 3487.7L725.2 3566.3L725.9 3487L726.6 3566.3L727.2 2997.6L727.9 3565.7L728.6 2991.7L729.3 3568.6L729.9 2586.2L730.6 3568.6L731.3 2974.9L732 3568.5L732.6 2973.6L733.3 3568.8L734 2898.2L734.6 3567.1L735.3 3472.3L736 3566.8L736.7 3473.3L737.3 3566.8L738 3540.9L738.7 3567L739.4 3540.7L740 3567L740.7 3540.9L741.4 3566.8L742 3540.4L742.7 3566.6L743.4 3540.3L744.1 3567L744.7 3540.9L745.4 3568.5L746.1 3540.6L746.8 3568.9L747.4 3530.1L748.1 3568.5L748.8 3537.1L749.5 3569.1L750.1 3537.3L750.8 3569.6L751.5 3537.6L752.1 3569.3L752.8 3537.9L753.5 3569.8L754.2 3537.9L754.8 3569.7L755.5 3537.9L756.2 3570L756.9 3529.1L757.5 3569.9L758.2 3529.2L758.9 3569.5L759.5 3529.8L760.2 3569.6L760.9 3521.7L761.6 3569.3L762.2 3520.9L762.9 3569.4L763.6 3520.5L764.3 3569.9L764.9 3521.1L765.6 3569.6L766.3 3507.1L766.9 3569.4L767.6 3506.7L768.3 3569.7L769 3506.5L769.6 3569.5L770.3 3506.8L771 3569.5L771.7 3523.9L772.3 3569.9L773 3523.2L773.7 3569.7L774.3 3523.8L775 3569L775.7 3524.3L776.4 3569.4L777 3519.1L777.7 3569L778.4 3518.4L779.1 3569.6L779.7 3518.6L780.4 3568.7L781.1 3528.8L781.7 3568.3L782.4 3529.6L783.1 3568.5L783.8 3529.5L784.4 3568.3L785.1 3394L785.8 3568.4L786.5 3396L787.1 3568.7L787.8 3511.6L788.5 3566.7L789.1 3511.6L789.8 3566.7L790.5 3511.2L791.2 3566.5L791.8 2373.4L792.5 3566.4L793.2 3540.9L793.9 3566.8L794.5 3541.5L795.2 3566.1L795.9 3540.9L796.5 3566.2L797.2 3546L797.9 3566.6L798.6 3546L799.2 3566.9L799.9 3545.8L800.6 3568.5L801.3 3533.4L801.9 3568.3L802.6 3533.1L803.3 3568.7L803.9 3533.3L804.6 3568.5L805.3 3534.7L806 3568.1L806.6 3534.7L807.3 3568.7L808 3535.3L808.7 3568.6L809.3 3529.1L810 3568.5L810.7 3529.1L811.3 3569.3L812 3529.5L812.7 3569.3L813.4 3529.2L814 3568.5L814.7 3533.5L815.4 3569.2L816.1 3533.6L816.7 3569.4L817.4 3533L818.1 3569.7L818.7 3546.1L819.4 3569.4L820.1 3568.2L820.8 3569.9L821.4 3568.2L822.1 3569.8L822.8 3568.3L823.5 3568.3L824.1 3568.3L824.8 3568.3L825.5 3568.2L826.1 3568.5L826.8 3568.2L827.5 3569.9L828.2 3568.2L828.8 3569.7L829.5 3568.2L830.2 3569.5L830.9 3518L831.5 3569.5L832.2 3557.1L832.9 3567.2L833.5 3557L834.2 3567.3L834.9 3557.2L835.6 3567.4L836.2 3557.2L836.9 3567.2L837.6 3548.8L838.3 3567.1L838.9 3548.8L839.6 3567.1L840.3 3549.1L840.9 3569.2L841.6 3548.8L842.3 3569.2L843 3549.1L843.6 3569.6L844.3 3548.7L845 3566.8L845.7 3535.2L846.3 3566.9L847 3554.3L847.7 3566.5L848.3 3554.5L849 3566.6L849.7 3554.5L850.4 3566.7L851 3554.3L851.7 3566.7L852.4 3554.4L853.1 3566.5L853.7 3554.5L854.4 3566.8L855.1 3554.4L855.7 3567L856.4 3554.5L857.1 3569.3L857.8 3554.5L858.4 3569.4L859.1 3554.5L859.8 3569.5L860.5 3535.7L861.1 3570L861.8 3554.3L862.5 3570L863.1 3554.2L863.8 3569.7L864.5 3554.6L865.2 3570L865.8 3554.6L866.5 3569.7L867.2 3554.4L867.9 3569.8L868.5 3554.6L869.2 3569.8L869.9 3551.8L870.5 3570L871.2 3551.3L871.9 3569.6L872.6 3551.7L873.2 3570L873.9 3551.5L874.6 3569.4L875.3 3554.3L875.9 3569.4L876.6 3554.3L877.3 3569.9L877.9 3554.4L878.6 3567.9L879.3 3554.2L880 3568.4L880.6 3554.2L881.3 3567.8L882 3513.4L882.7 3569.3L883.3 3513.7L884 3569.4L884.7 3513.4L885.3 3568.7L886 3513.4L886.7 3568.9L887.4 3514.6L888 3569L888.7 3467.6L889.4 3569.3L890.1 3468L890.7 3569.9L891.4 3468.3L892.1 3569.2L892.7 3469.4L893.4 3569.9L894.1 3466.9L894.8 3567.5L895.4 3426L896.1 3567.1L896.8 3541.4L897.5 3567L898.1 3541.4L898.8 3567.2L899.5 3541.5L900.1 3567.1L900.8 3551.3L901.5 3566.8L902.2 3551.2L902.8 3567.3L903.5 3549.8L904.2 3567.2L904.9 3550.2L905.5 3567.2L906.2 3550.1L906.9 3567.2L907.5 3550L908.2 3567L908.9 3491.5L909.6 3566.8L910.2 3490.2L910.9 3567.6L911.6 3490.9L912.3 3567.4L912.9 3491.8L913.6 3567.4L914.3 3494.5L914.9 3567.5L915.6 3495.6L916.3 3569.9L917 3530.8L917.6 3569.7L918.3 3531.6L919 3569.6L919.7 3087.5L920.3 3569.6L921 3541.2L921.7 3570.1L922.3 3541L923 3570.1L923.7 3551L924.4 3570.1L925 3551.2L925.7 3569.9L926.4 3558.8L927.1 3569.5L927.7 3558.8L928.4 3568.8L929.1 3558.7L929.7 3568.8L930.4 3550.2L931.1 3568.9L931.8 3550L932.4 3569.3L933.1 3550L933.8 3569L934.5 3550.2L935.1 3569L935.8 3542.7L936.5 3569.3L937.1 3542.4L937.8 3569.2L938.5 3542.4L939.2 3566.9L939.8 3542.7L940.5 3567.3L941.2 3542.2L941.9 3566.9L942.5 3488.5L943.2 3567L943.9 3541.9L944.5 3566.9L945.2 3542.6L945.9 3567L946.6 3542.4L947.2 3566.3L947.9 3542.5L948.6 3566.4L949.3 3542.8L949.9 3566.5L950.6 3553.7L951.3 3566.7L951.9 3553.8L952.6 3566.8L953.3 3554L954 3566.8L954.6 3553.9L955.3 3568.4L956 3548.7L956.7 3568.7L957.3 3548.9L958 3568.6L958.7 3548.8L959.3 3568.8L960 3559L960.7 3568.7L961.4 3558.9L962 3568.1L962.7 3558.8L963.4 3568.4L964.1 3558.8L964.7 3568.7L965.4 3558.7L966.1 3568.4L966.7 3520L967.4 3567.1L968.1 3525.2L968.8 3567.4L969.4 3526.5L970.1 3567.5L970.8 3525.4L971.5 3567.5L972.1 3526L972.8 3566.9L973.5 3525.4L974.1 3566.1L974.8 3493.4L975.5 3566.3L976.2 3492.4L976.8 3566.7L977.5 3491.5L978.2 3566.3L978.9 3493.1L979.5 3566.2L980.2 3479.9L980.9 3566.1L981.5 3480.2L982.2 3566.1L982.9 3478.1L983.6 3566L984.2 3529.5L984.9 3566L985.6 3529.8L986.3 3570.1L986.9 3529.3L987.6 3569.9L988.3 3529.7L988.9 3570L989.6 3546.3L990.3 3570.1L991 3546.3L991.6 3569.9L992.3 3546.4L993 3569.5L993.7 3546.3L994.3 3570.1L995 3529L995.7 3569.9L996.3 3551.4L997 3570L997.7 3551.2L998.4 3567.8L999 3551.1L999.7 3567.6L1000.4 3551L1001.1 3568L1001.7 3551.3L1002.4 3567.7L1003.1 3551.2L1003.7 3568.7L1004.4 3551L1005.1 3568.4L1005.8 3550L1006.4 3568.4L1007.1 3549.9L1007.8 3568.5L1008.5 3549.9L1009.1 3568.2L1009.8 3550L1010.5 3568.4L1011.1 3550L1011.8 3568.6L1012.5 3550L1013.2 3567.9L1013.8 3550.3L1014.5 3568.4L1015.2 3541.4L1015.9 3566.8L1016.5 3540.9L1017.2 3567.4L1017.9 3541.4L1018.6 3566.8L1019.2 3540.9L1019.9 3567.2L1020.6 3541.5L1021.2 3567L1021.9 3540.7L1022.6 3569.6L1023.3 3543.5L1023.9 3569.5L1024.6 3544L1025.3 3569.9L1026 3543.8L1026.6 3569.9L1027.3 3543.8L1028 3569.9L1028.6 3543.4L1029.3 3569.5L1030 3543.3L1030.7 3569.6L1031.3 3520.6L1032 3569.4L1032.7 3551L1033.4 3567.1L1034 3551.1L1034.7 3567.7L1035.4 3551.2L1036 3567.1L1036.7 3551.4L1037.4 3567.5L1038.1 3551.4L1038.7 3567.4L1039.4 3555.3L1040.1 3567.7L1040.8 3555.2L1041.4 3569.9L1042.1 3555.1L1042.8 3569.9L1043.4 3555.3L1044.1 3569.8L1044.8 3555L1045.5 3570L1046.1 3548.4L1046.8 3569.4L1047.5 3549L1048.2 3568.3L1048.8 3548.9L1049.5 3568.5L1050.2 3548.8L1050.8 3568.3L1051.5 3533.5L1052.2 3568.2L1052.9 3533.1L1053.5 3568L1054.2 3533.2L1054.9 3568.5L1055.6 3533L1056.2 3569.4L1056.9 3536.8L1057.6 3570.2L1058.2 3537.2L1058.9 3569.9L1059.6 3537.6L1060.3 3569.9L1060.9 3537.7L1061.6 3569.6L1062.3 3537.2L1063 3570.1L1063.6 3537.4L1064.3 3568.6L1065 3499.3L1065.6 3568.1L1066.3 3527.5L1067 3568.4L1067.7 3527.4L1068.3 3568.5L1069 3527.8L1069.7 3569.1L1070.4 3527.6L1071 3568.9L1071.7 3527.4L1072.4 3569.2L1073 3527.3L1073.7 3569.4L1074.4 3526.7L1075.1 3569.5L1075.7 3527.1L1076.4 3569.6L1077.1 3512.8L1077.8 3569.6L1078.4 3536.9L1079.1 3568.5L1079.8 3536.9L1080.4 3568.6L1081.1 3537.1L1081.8 3568.4L1082.5 3536.9L1083.1 3568.8L1083.8 3537.4L1084.5 3568.3L1085.2 3534.6L1085.8 3568.5L1086.5 3535.3L1087.2 3568.2L1087.8 3535L1088.5 3568.7L1089.2 3444.6L1089.9 3568.2L1090.5 3444.2L1091.2 3568.7L1091.9 3481.5L1092.6 3568.6L1093.2 3481L1093.9 3568.8L1094.6 3483.1L1095.2 3568.7L1095.9 3083.7L1096.6 3569.1L1097.3 3487.1L1097.9 3568.8L1098.6 3487.1L1099.3 3570L1100 3485.9L1100.6 3570L1101.3 3491.6L1102 3570L1102.6 3490.7L1103.3 3569.8L1104 3491.1L1104.7 3569.7L1105.3 3491.7L1106 3569.7L1106.7 3495.1L1107.4 3569.4L1108 3495.2L1108.7 3569.5L1109.4 3496.4L1110 3569.2L1110.7 3515.7L1111.4 3569L1112.1 3516.4L1112.7 3569.5L1113.4 3515.1L1114.1 3569.2L1114.8 3515L1115.4 3569.7L1116.1 3516.4L1116.8 3569.7L1117.4 3101.5L1118.1 3570.1L1118.8 3511.8L1119.5 3570L1120.1 3511.6L1120.8 3569.4L1121.5 3510.8L1122.2 3569.4L1122.8 3512.3L1123.5 3569.9L1124.2 3511.4L1124.8 3569.6L1125.5 3278.2L1126.2 3566.7L1126.9 2889.8L1127.5 3566.6L1128.2 2892.4L1128.9 3566.1L1129.6 2898.1L1130.2 3566.8L1130.9 2864.9L1131.6 3566.7L1132.2 2878L1132.9 3566.6L1133.6 3093.3L1134.3 3566.2L1134.9 3090.6L1135.6 3566.8L1136.3 3089.9L1137 3569.6L1137.6 3091.4L1138.3 3569.8L1139 3463.8L1139.6 3569.5L1140.3 3463.5L1141 3569.7L1141.7 3528.6L1142.3 3570L1143 3528.2L1143.7 3569.6L1144.4 3527.7L1145 3569.7L1145.7 3527.6L1146.4 3568.8L1147 3526.7L1147.7 3568.3L1148.4 3526.8L1149.1 3568.2L1149.7 3527.1L1150.4 3568.5L1151.1 3536.4L1151.8 3568.4L1152.4 3535.7L1153.1 3568.4L1153.8 3535.6L1154.4 3568.1L1155.1 3536.5L1155.8 3568.3L1156.5 3522.6L1157.1 3568.4L1157.8 3523.6L1158.5 3567.1L1159.2 3450.9L1159.8 3567.4L1160.5 3451.5L1161.2 3567L1161.8 3280.3L1162.5 3567.3L1163.2 3282.3L1163.9 3567L1164.5 3346.5L1165.2 3567.4L1165.9 3345.9L1166.6 3566.8L1167.2 3343.8L1167.9 3566.8L1168.6 2974.8L1169.2 3567.3L1169.9 2976.4L1170.6 3569.6L1171.3 2877.2L1171.9 3569.7L1172.6 3326L1173.3 3569.6L1174 3327L1174.6 3569.6L1175.3 3320.3L1176 3569.4L1176.6 3497.6L1177.3 3569.5L1178 3498.9L1178.7 3570.1L1179.3 3474L1180 3569.4L1180.7 3473.8L1181.4 3569.4L1182 3474.3L1182.7 3569.3L1183.4 3459.4L1184 3569.6L1184.7 3496.1L1185.4 3569.8L1186.1 3497.1L1186.7 3569.5L1187.4 3495.8L1188.1 3569.7L1188.8 3497L1189.4 3569.4L1190.1 3495.9L1190.8 3569.6L1191.4 3517.1L1192.1 3569.8L1192.8 3517.4L1193.5 3569.4L1194.1 3517.6L1194.8 3569.8L1195.5 3511.3L1196.2 3570L1196.8 3512.3L1197.5 3569.8L1198.2 3511.3L1198.8 3569.7L1199.5 3512.3L1200.2 3570.1L1200.9 2533.8L1201.5 3569.5L1202.2 3512.4L1202.9 3569.4L1203.6 3510.7L1204.2 3570.2L1204.9 3511L1205.6 3569.5L1206.2 3521L1206.9 3569.2L1207.6 3521.3L1208.3 3569.6L1208.9 3520.4L1209.6 3569.7L1210.3 3501L1211 3569.3L1211.6 3500.3L1212.3 3569.7L1213 3499.3L1213.6 3570L1214.3 3499.5L1215 3569.7L1215.7 3500.5L1216.3 3569.7L1217 3501L1217.7 3570L1218.4 3502.5L1219 3570L1219.7 2848.9L1220.4 3569.9L1221 3497.5L1221.7 3569.5L1222.4 3497.6L1223.1 3569L1223.7 3496.4L1224.4 3569.1L1225.1 3497.1L1225.8 3569.3L1226.4 3488.1L1227.1 3569.4L1227.8 3488.2L1228.4 3569.4L1229.1 3486.7L1229.8 3570L1230.5 3488.7L1231.1 3569.5L1231.8 3509.9L1232.5 3569.7L1233.2 3510.5L1233.8 3569.4L1234.5 3510.9L1235.2 3569.4L1235.8 3511L1236.5 3569.7L1237.2 3499.9L1237.9 3570L1238.5 3498.8L1239.2 3569.4L1239.9 3498.8L1240.6 3568.5L1241.2 3499.7L1241.9 3568.3L1242.6 3498.2L1243.2 3568.6L1243.9 3521.3L1244.6 3568.9L1245.3 3520.5L1245.9 3568.1L1246.6 3520.6L1247.3 3568.5L1248 3520.4L1248.6 3568.6L1249.3 3521.1L1250 3568.8L1250.6 3506.2L1251.3 3568.6L1252 3506.1L1252.7 3569L1253.3 3506L1254 3569L1254.7 3506.1L1255.4 3568.7L1256 3507.1L1256.7 3569.3L1257.4 3539L1258 3568.9L1258.7 3538L1259.4 3569.3L1260.1 3538.5L1260.7 3568.6L1261.4 3538.4L1262.1 3568.7L1262.8 3533.3L1263.4 3568.2L1264.1 3533.3L1264.8 3568.7L1265.4 3533L1266.1 3568.9L1266.8 3533.4L1267.5 3568.5L1268.1 3533.2L1268.8 3568.7L1269.5 3548.4L1270.2 3568.1L1270.8 3548.4L1271.5 3568.2L1272.2 3549L1272.8 3568.5L1273.5 3548.8L1274.2 3568.6L1274.9 3539L1275.5 3568L1276.2 3538.8L1276.9 3568.5L1277.6 3538.7L1278.2 3568.6L1278.9 3538.2L1279.6 3567.8L1280.2 3345.1L1280.9 3567.8L1281.6 3531.8L1282.3 3567.4L1282.9 3531.4L1283.6 3568L1284.3 3531.5L1285 3568.3L1285.6 3530.8L1286.3 3567.8L1287 3513.6L1287.7 3568.3L1288.3 3513.2L1289 3568.3L1289.7 3512.4L1290.3 3567.9L1291 3512.6L1291.7 3567.6L1292.4 3164.7L1293 3567.6L1293.7 3373.9L1294.4 3567.8L1295.1 3370.7L1295.7 3567.6L1296.4 3370.7L1297.1 3567.5L1297.7 3367.4L1298.4 3567.6L1299.1 3364.9L1299.8 3568.2L1300.4 3546.1L1301.1 3568.1L1301.8 3545.8L1302.5 3569.1L1303.1 3545.9L1303.8 3568.9L1304.5 3544.9L1305.1 3568.7L1305.8 3544.9L1306.5 3569L1307.2 3544.7L1307.8 3568.8L1308.5 3544.7L1309.2 3568.7L1309.9 3544.9L1310.5 3569.1L1311.2 3548.4L1311.9 3569.8L1312.5 3548.4L1313.2 3569.6L1313.9 3548.7L1314.6 3569.7L1315.2 3502L1315.9 3569.3L1316.6 3503.4L1317.3 3569.5L1317.9 3503.5L1318.6 3569.2L1319.3 3503.4L1319.9 3569.1L1320.6 3503.9L1321.3 3569.2L1322 3244.9L1322.6 3566.8L1323.3 3541L1324 3566.7L1324.7 3541L1325.3 3566.8L1326 3540.7L1326.7 3567L1327.3 3559L1328 3567.3L1328.7 3558.7L1329.4 3569.8L1330 3559L1330.7 3570.1L1331.4 3558.9L1332.1 3570.2L1332.7 3542.8L1333.4 3569.5L1334.1 3542L1334.7 3569.6L1335.4 3542.7L1336.1 3569.9L1336.8 3541.5L1337.4 3569.5L1338.1 3541.3L1338.8 3570L1339.5 3541.1L1340.1 3567.8L1340.8 3541.2L1341.5 3567.9L1342.1 3525.9L1342.8 3567.5L1343.5 3556.4L1344.2 3566.1L1344.8 3556.3L1345.5 3565.8L1346.2 3556.3L1346.9 3566.3L1347.5 3556.2L1348.2 3569.7L1348.9 3556.3L1349.5 3569.9L1350.2 3556.3L1350.9 3569.7L1351.6 3559L1352.2 3569.8L1352.9 3558.9L1353.6 3569.8L1354.3 3558.8L1354.9 3569.4L1355.6 3558.9L1356.3 3569.6L1356.9 3558.8L1357.6 3569.7L1358.3 3547.4L1359 3569.6L1359.6 3547.4L1360.3 3569.7L1361 3547.6L1361.7 3569.8L1362.3 3547.1L1363 3569.4L1363.7 3547.1L1364.3 3569.3L1365 3560L1365.7 3569.9L1366.4 3560.2L1367 3570L1367.7 3560L1368.4 3569.8L1369.1 3560.2L1369.7 3570.2L1370.4 3560.3L1371.1 3570L1371.7 3561.4L1372.4 3569.9L1373.1 3561.3L1373.8 3570.2L1374.4 3561.4L1375.1 3569.4L1375.8 3561.4L1376.5 3569.5L1377.1 3561.4L1377.8 3567.5L1378.5 3561.3L1379.1 3567.7L1379.8 3551.4L1380.5 3568.1L1381.2 3551.2L1381.8 3567.8L1382.5 3551.5L1383.2 3567.8L1383.9 3551.2L1384.5 3569.9L1385.2 3551.4L1385.9 3569.6L1386.5 3551.5L1387.2 3569.7L1387.9 3464.5L1388.6 3569.4L1389.2 3535.5L1389.9 3570.1L1390.6 3536.5L1391.3 3570L1391.9 3535.6L1392.6 3569.3L1393.3 3536.5L1393.9 3569.9L1394.6 3536.3L1395.3 3569.9L1396 3534.5L1396.6 3569.5L1397.3 3535L1398 3566.4L1398.7 3534.8L1399.3 3566.2L1400 3550.9L1400.7 3566.7L1401.3 3551L1402 3566.9" stroke="#ff7a7a" stroke-width="8.7" fill="none" stroke-linejoin="round" stroke-linecap="round"/>
</g>
<path d="M338.4 3631.4v16.7M460.8 3631.4v16.7M584.6 3631.4v16.7M708.4 3631.4v16.7M829.5 3631.4v16.7M951.9 3631.4v16.7M1075.7 3631.4v16.7M1199.5 3631.4v16.7M1322 3631.4v16.7M1444.4 3631.4v16.7M241.8 3570.7h-16.7M241.8 3370.2h-16.7M241.8 3169.7h-16.7M241.8 2969.2h-16.7M241.8 2768.7h-16.7M241.8 2568.2h-16.7M241.8 2367.7h-16.7" stroke="#262626" stroke-width="3.33" fill="none"/>
<rect x="241.8" y="2313" width="1212.5" height="1318.4" fill="none" stroke="#262626" stroke-width="3.33"/>
<text x="207.3" y="3585" text-anchor="end" font-size="40.5">0</text>
<text x="207.3" y="3384.5" text-anchor="end" font-size="40.5">200</text>
<text x="207.3" y="3184" text-anchor="end" font-size="40.5">400</text>
<text x="207.3" y="2983.5" text-anchor="end" font-size="40.5">600</text>
<text x="207.3" y="2783" text-anchor="end" font-size="40.5">800</text>
<text x="207.3" y="2582.5" text-anchor="end" font-size="40.5">1000</text>
<text x="207.3" y="2382" text-anchor="end" font-size="40.5">1200</text>
<text transform="translate(72.5 2972.2) rotate(-90)" text-anchor="middle" font-size="54.3" font-weight="bold">Absolute Error (µg/m³)</text>
<text transform="translate(333.4 3752.2) rotate(-47.0)" text-anchor="middle" font-size="40.5" dy="0.355em">2022-04-01</text>
<text transform="translate(455.8 3752.2) rotate(-47.0)" text-anchor="middle" font-size="40.5" dy="0.355em">2022-07-01</text>
<text transform="translate(579.6 3752.2) rotate(-47.0)" text-anchor="middle" font-size="40.5" dy="0.355em">2022-10-01</text>
<text transform="translate(703.4 3752.2) rotate(-47.0)" text-anchor="middle" font-size="40.5" dy="0.355em">2023-01-01</text>
<text transform="translate(824.5 3752.2) rotate(-47.0)" text-anchor="middle" font-size="40.5" dy="0.355em">2023-04-01</text>
<text transform="translate(946.9 3752.2) rotate(-47.0)" text-anchor="middle" font-size="40.5" dy="0.355em">2023-07-01</text>
<text transform="translate(1070.7 3752.2) rotate(-47.0)" text-anchor="middle" font-size="40.5" dy="0.355em">2023-10-01</text>
<text transform="translate(1194.5 3752.2) rotate(-47.0)" text-anchor="middle" font-size="40.5" dy="0.355em">2024-01-01</text>
<text transform="translate(1317 3752.2) rotate(-47.0)" text-anchor="middle" font-size="40.5" dy="0.355em">2024-04-01</text>
<text transform="translate(1439.4 3752.2) rotate(-47.0)" text-anchor="middle" font-size="40.5" dy="0.355em">2024-07-01</text>
<text x="848" y="3916.9" text-anchor="middle" font-size="54.3" font-weight="bold">Date</text>
<text x="848" y="2261.8" text-anchor="middle" font-size="60.5" font-weight="bold">Hourly Resampling</text>
<path d="M1732.5 3631.4V2313M1854.9 3631.4V2313M1978.7 3631.4V2313M2102.5 3631.4V2313M2223.6 3631.4V2313M2346 3631.4V2313M2469.8 3631.4V2313M2593.6 3631.4V2313M2716.1 3631.4V2313M2838.5 3631.4V2313M1635.7 3570.7H2848.2M1635.7 3370.2H2848.2M1635.7 3169.7H2848.2M1635.7 2969.2H2848.2M1635.7 2768.7H2848.2M1635.7 2568.2H2848.2M1635.7 2367.7H2848.2" stroke="#e2e2e2" stroke-width="3.33" stroke-dasharray="12.4 5.37" fill="none"/>
<clipPath id="c5"><rect x="1635.7" y="2313" width="1212.5" height="1318.4"/></clipPath>
<g clip-path="url(#c5)">
<path d="M1690.8 3554.7L1692.1 3562.2L1693.5 3551.1L1694.8 3549.2L1696.2 3553.2L1697.5 3562.7L1698.9 3561.5L1700.2 3563.7L1701.6 3558.5L1702.9 3562.2L1704.2 3554.1L1705.6 3562.5L1706.9 3553.2L1708.3 3561.7L1709.6 3550.8L1711 3546.6L1712.3 3552.6L1713.7 3563.9L1715 3561.4L1716.4 3563.4L1717.7 3562.2L1719 3563.3L1720.4 3560L1721.7 3558.5L1723.1 3554.5L1724.4 3563L1725.8 3549.3L1727.1 3543.6L1728.5 3542L1729.8 3536.7L1731.2 3540.2L1732.5 3562.8L1733.8 3543.2L1735.2 3543.6L1736.5 3548.4L1737.9 3555.5L1739.2 3556.8L1740.6 3564.6L1741.9 3551.5L1743.3 3563.2L1744.6 3557.8L1746 3561.5L1747.3 3562.4L1748.6 3564.9L1750 3562.8L1751.3 3564.9L1752.7 3563.5L1754 3563.4L1755.4 3560.9L1756.7 3565.1L1758.1 3557L1759.4 3563.3L1760.8 3553.5L1762.1 3565L1763.4 3557.7L1764.8 3563L1766.1 3559.9L1767.5 3560.5L1768.8 3562.9L1770.2 3565.4L1771.5 3565.3L1772.9 3565.5L1774.2 3564.2L1775.6 3564.8L1776.9 3562.7L1778.2 3564.9L1779.6 3561.5L1780.9 3565.5L1782.3 3561.4L1783.6 3564.1L1785 3562L1786.3 3565.6L1787.7 3560.5L1789 3564.2L1790.4 3561.4L1791.7 3565L1793 3561.7L1794.4 3565.5L1795.7 3562.8L1797.1 3562.5L1798.4 3562.5L1799.8 3566L1801.1 3560.5L1802.5 3564.1L1803.8 3559.4L1805.2 3557.5L1806.5 3559.1L1807.8 3563.8L1809.2 3560.6L1810.5 3560.5L1811.9 3561.5L1813.2 3565.7L1814.6 3560.6L1815.9 3566L1817.3 3559.5L1818.6 3566L1820 3562.6L1821.3 3566L1822.6 3565.3L1824 3566.5L1825.3 3566.4L1826.7 3566.9L1828 3567.4L1829.4 3567.9L1830.7 3568.4L1832.1 3568.2L1833.4 3568.1L1834.8 3567.9L1836.1 3567.7L1837.4 3567.6L1838.8 3567.4L1840.1 3566.9L1841.5 3565.2L1842.8 3566.7L1844.2 3561.5L1845.5 3566.9L1846.9 3564.1L1848.2 3567L1849.6 3565.4L1850.9 3566.3L1852.2 3563.3L1853.6 3561.5L1854.9 3563.9L1856.3 3567L1857.6 3567.7L1859 3569.4L1860.3 3569.3L1861.7 3569.3L1863 3569.2L1864.4 3569.2L1865.7 3569.1L1867.1 3569.1L1868.4 3569L1869.7 3569.1L1871.1 3569.1L1872.4 3569.2L1873.8 3569.3L1875.1 3569.3L1876.5 3569.4L1877.8 3568.7L1879.2 3568L1880.5 3567.5L1881.9 3566.8L1883.2 3565.8L1884.5 3566.5L1885.9 3567.4L1887.2 3567.3L1888.6 3567.8L1889.9 3568.3L1891.3 3568.5L1892.6 3568.6L1894 3568.7L1895.3 3568.8L1896.7 3568.9L1898 3569L1899.3 3568.9L1900.7 3568.8L1902 3568.6L1903.4 3568.5L1904.7 3568.4L1906.1 3568.4L1907.4 3568.4L1908.8 3568.4L1910.1 3568.4L1911.5 3568.4L1912.8 3568.4L1914.1 3568.4L1915.5 3566.6L1916.8 3562.3L1918.2 3565.6L1919.5 3555.1L1920.9 3550.6L1922.2 3557.7L1923.6 3567.4L1924.9 3561.5L1926.3 3566.1L1927.6 3558L1928.9 3564.4L1930.3 3555.4L1931.6 3551.5L1933 3558.3L1934.3 3566.4L1935.7 3563.4L1937 3566.8L1938.4 3564.3L1939.7 3567L1941.1 3565.4L1942.4 3565.4L1943.7 3562.4L1945.1 3565.4L1946.4 3559.1L1947.8 3554.5L1949.1 3558.8L1950.5 3567.6L1951.8 3561.2L1953.2 3561.5L1954.5 3559L1955.9 3565.7L1957.2 3551.5L1958.5 3566.8L1959.9 3558.5L1961.2 3567.2L1962.6 3561.6L1963.9 3563.4L1965.3 3563.5L1966.6 3566.7L1968 3562.1L1969.3 3561.5L1970.7 3560.5L1972 3564.9L1973.3 3555.4L1974.7 3562.8L1976 3551.5L1977.4 3563.2L1978.7 3559.4L1980.1 3565.2L1981.4 3561.4L1982.8 3566.9L1984.1 3559.9L1985.5 3565.2L1986.8 3562.7L1988.1 3560.7L1989.5 3550.6L1990.8 3528.6L1992.2 3540.6L1993.5 3535.6L1994.9 3540.6L1996.2 3525.6L1997.6 3498.5L1998.9 3530.6L2000.3 3550.6L2001.6 3558.7L2002.9 3558.7L2004.3 3556.7L2005.6 3552.7L2007 3545.6L2008.3 3538.6L2009.7 3531.6L2011 3532.6L2012.4 3525.6L2013.7 3072.5L2015.1 3239.9L2016.4 3400.3L2017.7 3435.4L2019.1 3490.5L2020.4 3545.6L2021.8 3565.7L2023.1 3565.7L2024.5 3562.7L2025.8 3558.7L2027.2 3543.6L2028.5 3555.7L2029.9 3560.7L2031.2 3558.7L2032.5 3550.6L2033.9 3467.4L2035.2 3530.6L2036.6 3520.6L2037.9 3338.6L2039.3 3510.5L2040.6 3490.5L2042 3454.4L2043.3 3530.6L2044.7 3558.7L2046 3561.7L2047.3 3560.7L2048.7 3558.7L2050 3556.7L2051.4 3558.7L2052.7 3291.4L2054.1 3470.4L2055.4 3560.7L2056.8 3565.7L2058.1 3562.7L2059.5 3560.7L2060.8 3564.7L2062.1 3562.7L2063.5 3540.6L2064.8 3487.5L2066.2 3548.6L2067.5 3486.5L2068.9 3548.6L2070.2 3500.5L2071.6 3480.5L2072.9 3545.6L2074.3 3552.7L2075.6 3548.6L2076.9 3552.7L2078.3 3540.6L2079.6 3509.7L2081 3545.6L2082.3 3512.6L2083.7 3540.6L2085 3453.4L2086.4 3510.5L2087.7 3493.5L2089.1 3540.6L2090.4 3562.7L2091.7 3567.7L2093.1 3565.7L2094.4 3562.7L2095.8 3567.6L2097.1 3563.6L2098.5 3567.7L2099.8 3563.4L2101.2 3566.4L2102.5 3564.1L2103.9 3567.2L2105.2 3563.4L2106.5 3567L2107.9 3562.6L2109.2 3561.5L2110.6 3562.3L2111.9 3567.4L2113.3 3561L2114.6 3566.5L2116 3560.3L2117.3 3559.5L2118.7 3559.6L2120 3567.8L2121.3 3551.6L2122.7 3562.4L2124 3545.6L2125.4 3543L2126.7 3553.2L2128.1 3565.1L2129.4 3559.5L2130.8 3567.8L2132.1 3557.1L2133.5 3566.6L2134.8 3553.5L2136.2 3564.5L2137.5 3562.3L2138.8 3565.4L2140.2 3565.9L2141.5 3567.1L2142.9 3565.6L2144.2 3566.9L2145.6 3564.4L2146.9 3567.6L2148.3 3564.2L2149.6 3567.1L2151 3563.4L2152.3 3567L2153.6 3557.1L2155 3565.4L2156.3 3544.2L2157.7 3565.9L2159 3551.1L2160.4 3564.4L2161.7 3552.5L2163.1 3566.4L2164.4 3561.7L2165.8 3563.4L2167.1 3563.5L2168.4 3567.7L2169.8 3563.3L2171.1 3567.7L2172.5 3563.1L2173.8 3566.6L2175.2 3561.5L2176.5 3566.5L2177.9 3561.4L2179.2 3560.5L2180.6 3550.5L2181.9 3559.4L2183.2 3533.5L2184.6 3511.9L2185.9 3526.5L2187.3 3562.1L2188.6 3550.7L2190 3561.5L2191.3 3562.6L2192.7 3567.1L2194 3563.6L2195.4 3567.5L2196.7 3564L2198 3567.2L2199.4 3563.4L2200.7 3566.8L2202.1 3563.3L2203.4 3567.1L2204.8 3562.5L2206.1 3568.1L2207.5 3560.6L2208.8 3567.9L2210.2 3554.6L2211.5 3567.2L2212.8 3550.6L2214.2 3563.6L2215.5 3557.6L2216.9 3555.5L2218.2 3550.4L2219.6 3560L2220.9 3534.7L2222.3 3566.8L2223.6 3550.4L2225 3566.2L2226.3 3560.3L2227.6 3567.5L2229 3564.2L2230.3 3567.9L2231.7 3566.7L2233 3567.4L2234.4 3566.4L2235.7 3567.8L2237.1 3564.8L2238.4 3566.8L2239.8 3562.5L2241.1 3564.6L2242.4 3562.2L2243.8 3563.6L2245.1 3561.5L2246.5 3560.5L2247.8 3559.5L2249.2 3563.1L2250.5 3558.2L2251.9 3563.2L2253.2 3554.5L2254.6 3561.6L2255.9 3557.5L2257.2 3562.5L2258.6 3560.2L2259.9 3561.5L2261.3 3561.6L2262.6 3563.2L2264 3562.2L2265.3 3563L2266.7 3562.4L2268 3562.5L2269.4 3558.4L2270.7 3561.5L2272 3554.8L2273.4 3561.8L2274.7 3547.6L2276.1 3558.8L2277.4 3547.5L2278.8 3544.6L2280.1 3550.1L2281.5 3557.7L2282.8 3552.2L2284.2 3560.5L2285.5 3553.5L2286.8 3559.9L2288.2 3555.5L2289.5 3555.5L2290.9 3556.6L2292.2 3559.9L2293.6 3556.9L2294.9 3560.1L2296.3 3556.5L2297.6 3561.5L2299 3556.1L2300.3 3559.6L2301.6 3554.5L2303 3559.2L2304.3 3554L2305.7 3560.2L2307 3552.5L2308.4 3559.5L2309.7 3548L2311.1 3555.1L2312.4 3539L2313.8 3561.9L2315.1 3552L2316.4 3560.6L2317.8 3558.2L2319.1 3561.5L2320.5 3559.7L2321.8 3563.2L2323.2 3560.5L2324.5 3564.3L2325.9 3562.3L2327.2 3564.7L2328.6 3563.4L2329.9 3564.1L2331.2 3554.1L2332.6 3565L2333.9 3544.2L2335.3 3540L2336.6 3547L2338 3561.6L2339.3 3556.1L2340.7 3559.5L2342 3560.8L2343.4 3563.4L2344.7 3561.5L2346 3564.4L2347.4 3561.5L2348.7 3563.5L2350.1 3561.8L2351.4 3564.3L2352.8 3561.8L2354.1 3561.5L2355.5 3560.8L2356.8 3562.9L2358.2 3554.7L2359.5 3560.2L2360.8 3549.6L2362.2 3563.5L2363.5 3555.8L2364.9 3557.5L2366.2 3557.5L2367.6 3564.5L2368.9 3554.6L2370.3 3552.5L2371.6 3552.8L2373 3563.8L2374.3 3551L2375.6 3565L2377 3543.6L2378.3 3564.3L2379.7 3550.6L2381 3566.3L2382.4 3555.5L2383.7 3566.7L2385.1 3557.1L2386.4 3563.1L2387.8 3555.9L2389.1 3554.5L2390.4 3556L2391.8 3562.8L2393.1 3557.7L2394.5 3565.6L2395.8 3559.2L2397.2 3558.5L2398.5 3559L2399.9 3565L2401.2 3561L2402.6 3563.7L2403.9 3561.3L2405.2 3561.5L2406.6 3559.9L2407.9 3564L2409.3 3555.7L2410.6 3560.7L2412 3549.6L2413.3 3563.2L2414.7 3553.4L2416 3561.3L2417.4 3553.5L2418.7 3561.4L2420.1 3553.3L2421.4 3558.8L2422.7 3550.7L2424.1 3548.6L2425.4 3553.2L2426.8 3562.5L2428.1 3556.3L2429.5 3561.9L2430.8 3558.5L2432.2 3562.2L2433.5 3560.3L2434.9 3562.2L2436.2 3561.4L2437.5 3561.5L2438.9 3560.6L2440.2 3561.6L2441.6 3558.9L2442.9 3562.2L2444.3 3556.3L2445.6 3561.1L2447 3551L2448.3 3557.5L2449.7 3547.4L2451 3555.6L2452.3 3541.6L2453.7 3556.8L2455 3544.5L2456.4 3556.3L2457.7 3539.2L2459.1 3560.6L2460.4 3544L2461.8 3558.2L2463.1 3548.5L2464.5 3545.6L2465.8 3550.9L2467.1 3556.6L2468.5 3551.4L2469.8 3552.5L2471.2 3554L2472.5 3560L2473.9 3555.6L2475.2 3559.2L2476.6 3557.5L2477.9 3558.3L2479.3 3549.4L2480.6 3558.3L2481.9 3539.6L2483.3 3559.3L2484.6 3539.2L2486 3529.7L2487.3 3537.1L2488.7 3561.7L2490 3537.7L2491.4 3554.6L2492.7 3526.7L2494.1 3555.6L2495.4 3509.9L2496.7 3555.1L2498.1 3537.8L2499.4 3543.6L2500.8 3546.4L2502.1 3556.8L2503.5 3551L2504.8 3551.5L2506.2 3549.9L2507.5 3556.2L2508.9 3537.7L2510.2 3559.7L2511.5 3523.8L2512.9 3552.4L2514.2 3538.8L2515.6 3560.7L2516.9 3540.6L2518.3 3557.5L2519.6 3545.1L2521 3543.6L2522.3 3541.6L2523.7 3554.2L2525 3526.7L2526.3 3516.8L2527.7 3533.3L2529 3563.3L2530.4 3543.6L2531.7 3561L2533.1 3549.5L2534.4 3551.5L2535.8 3555.6L2537.1 3564.6L2538.5 3555.7L2539.8 3568.5L2541.1 3557.5L2542.5 3566.8L2543.8 3561.1L2545.2 3567.3L2546.5 3563.4L2547.9 3567.6L2549.2 3559.4L2550.6 3551.5L2551.9 3553L2553.3 3560.8L2554.6 3535.7L2555.9 3559.5L2557.3 3535.1L2558.6 3558.6L2560 3515.8L2561.3 3547.3L2562.7 3523.7L2564 3559.2L2565.4 3506.9L2566.7 3555.1L2568.1 3533.9L2569.4 3537.7L2570.7 3540.8L2572.1 3560.4L2573.4 3544L2574.8 3539.6L2576.1 3542.2L2577.5 3558.4L2578.8 3547.6L2580.2 3553.9L2581.5 3547.5L2582.9 3544.6L2584.2 3549.3L2585.5 3558.4L2586.9 3551L2588.2 3552.5L2589.6 3551.4L2590.9 3567.1L2592.3 3546.7L2593.6 3565.9L2595 3535.7L2596.3 3559.7L2597.7 3548.1L2599 3551.5L2600.3 3553.9L2601.7 3566L2603 3550.2L2604.4 3566L2605.7 3546.6L2607.1 3557.7L2608.4 3547.7L2609.8 3543.6L2611.1 3530.8L2612.5 3549.3L2613.8 3493.4L2615.1 3550.8L2616.5 3518.8L2617.8 3549.1L2619.2 3535.7L2620.5 3549L2621.9 3540.4L2623.2 3537.7L2624.6 3538.4L2625.9 3553.4L2627.3 3540.5L2628.6 3540.6L2629.9 3544.5L2631.3 3559.3L2632.6 3544.2L2634 3562.7L2635.3 3547.5L2636.7 3542.6L2638 3548.5L2639.4 3562.7L2640.7 3554.9L2642.1 3555.5L2643.4 3549.9L2644.7 3562.9L2646.1 3543.6L2647.4 3538.1L2648.8 3546.4L2650.1 3561.1L2651.5 3558.1L2652.8 3561.5L2654.2 3561.9L2655.5 3564.3L2656.9 3561L2658.2 3560.5L2659.5 3560.4L2660.9 3565.4L2662.2 3560.7L2663.6 3565L2664.9 3559.1L2666.3 3558.5L2667.6 3557.8L2669 3564.8L2670.3 3556.3L2671.7 3562.6L2673 3556.3L2674.3 3553.5L2675.7 3556.3L2677 3564.7L2678.4 3560.9L2679.7 3563.4L2681.1 3562.1L2682.4 3566.2L2683.8 3555.4L2685.1 3565.8L2686.5 3547.6L2687.8 3565.2L2689.2 3559.2L2690.5 3565.4L2691.8 3565.9L2693.2 3568.1L2694.5 3566.9L2695.9 3568L2697.2 3567.4L2698.6 3567.4L2699.9 3566.2L2701.3 3567.5L2702.6 3564.4L2704 3566.9L2705.3 3562.5L2706.6 3565.8L2708 3560.8L2709.3 3557.5L2710.7 3558.5L2712 3567L2713.4 3559L2714.7 3567.4L2716.1 3393.3L2717.4 3568L2718.8 3561.5L2720.1 3561.5L2721.4 3562.1L2722.8 3565.9L2724.1 3562.2L2725.5 3567.8L2726.8 3560.5L2728.2 3567.4L2729.5 3562L2730.9 3566.2L2732.2 3561.5L2733.6 3566.7L2734.9 3562.3L2736.2 3560.5L2737.6 3561.5L2738.9 3567.1L2740.3 3558.7L2741.6 3567L2743 3557.5L2744.3 3565.1L2745.7 3560.1L2747 3566.2L2748.4 3562L2749.7 3562.5L2751 3563.6L2752.4 3566.6L2753.7 3563.2L2755.1 3566.3L2756.4 3563.3L2757.8 3567.4L2759.1 3563.4L2760.5 3566.3L2761.8 3564.4L2763.2 3566.5L2764.5 3564.8L2765.8 3566.3L2767.2 3564.7L2768.5 3567.1L2769.9 3564.4L2771.2 3566.8L2772.6 3564.6L2773.9 3566.8L2775.3 3563.8L2776.6 3567L2778 3558.2L2779.3 3561.8L2780.6 3540.4L2782 3524.4L2783.3 3539.9L2784.7 3562.6L2786 3562.2L2787.4 3566.4L2788.7 3563.6L2790.1 3565.8L2791.4 3563.4L2792.8 3566.6L2794.1 3565.8" stroke="#00cec9" stroke-width="8.4" fill="none" stroke-linejoin="round" stroke-linecap="round"/>
</g>
<path d="M1732.5 3631.4v16.7M1854.9 3631.4v16.7M1978.7 3631.4v16.7M2102.5 3631.4v16.7M2223.6 3631.4v16.7M2346 3631.4v16.7M2469.8 3631.4v16.7M2593.6 3631.4v16.7M2716.1 3631.4v16.7M2838.5 3631.4v16.7M1635.7 3570.7h-16.7M1635.7 3370.2h-16.7M1635.7 3169.7h-16.7M1635.7 2969.2h-16.7M1635.7 2768.7h-16.7M1635.7 2568.2h-16.7M1635.7 2367.7h-16.7" stroke="#262626" stroke-width="3.33" fill="none"/>
<rect x="1635.7" y="2313" width="1212.5" height="1318.4" fill="none" stroke="#262626" stroke-width="3.33"/>
<text transform="translate(1727.5 3752.2) rotate(-47.0)" text-anchor="middle" font-size="40.5" dy="0.355em">2022-04-01</text>
<text transform="translate(1849.9 3752.2) rotate(-47.0)" text-anchor="middle" font-size="40.5" dy="0.355em">2022-07-01</text>
<text transform="translate(1973.7 3752.2) rotate(-47.0)" text-anchor="middle" font-size="40.5" dy="0.355em">2022-10-01</text>
<text transform="translate(2097.5 3752.2) rotate(-47.0)" text-anchor="middle" font-size="40.5" dy="0.355em">2023-01-01</text>
<text transform="translate(2218.6 3752.2) rotate(-47.0)" text-anchor="middle" font-size="40.5" dy="0.355em">2023-04-01</text>
<text transform="translate(2341 3752.2) rotate(-47.0)" text-anchor="middle" font-size="40.5" dy="0.355em">2023-07-01</text>
<text transform="translate(2464.8 3752.2) rotate(-47.0)" text-anchor="middle" font-size="40.5" dy="0.355em">2023-10-01</text>
<text transform="translate(2588.6 3752.2) rotate(-47.0)" text-anchor="middle" font-size="40.5" dy="0.355em">2024-01-01</text>
<text transform="translate(2711.1 3752.2) rotate(-47.0)" text-anchor="middle" font-size="40.5" dy="0.355em">2024-04-01</text>
<text transform="translate(2833.5 3752.2) rotate(-47.0)" text-anchor="middle" font-size="40.5" dy="0.355em">2024-07-01</text>
<text x="2241.9" y="3916.9" text-anchor="middle" font-size="54.3" font-weight="bold">Date</text>
<text x="2241.9" y="2261.8" text-anchor="middle" font-size="60.5" font-weight="bold">Daily Resampling</text>
<path d="M3121.2 3631.4V2313M3243.5 3631.4V2313M3367.1 3631.4V2313M3490.7 3631.4V2313M3611.6 3631.4V2313M3733.9 3631.4V2313M3857.5 3631.4V2313M3981.1 3631.4V2313M4103.3 3631.4V2313M4225.6 3631.4V2313M3029.6 3570.7H4242.1M3029.6 3370.2H4242.1M3029.6 3169.7H4242.1M3029.6 2969.2H4242.1M3029.6 2768.7H4242.1M3029.6 2568.2H4242.1M3029.6 2367.7H4242.1" stroke="#e2e2e2" stroke-width="3.33" stroke-dasharray="12.4 5.37" fill="none"/>
<clipPath id="c6"><rect x="3029.6" y="2313" width="1212.5" height="1318.4"/></clipPath>
<g clip-path="url(#c6)">
<path d="M3085.4 3554.4L3094.8 3560L3104.2 3559.2L3113.6 3556.5L3123 3548.1L3132.4 3561.7L3141.8 3562.7L3151.2 3563.8L3160.7 3565.4L3170.1 3564.8L3179.5 3563.1L3188.9 3563.8L3198.3 3563.1L3207.7 3560.6L3217.1 3566.9L3226.5 3569L3235.9 3569.6L3245.3 3567.3L3254.7 3569.4L3264.1 3570L3273.5 3566.9L3282.9 3566.9L3292.3 3567.9L3301.7 3569.6L3311.1 3566.5L3320.5 3561.7L3329.9 3566.9L3339.3 3561.7L3348.7 3557.5L3358.1 3566.2L3367.5 3555.4L3376.9 3557.9L3386.3 3530.4L3395.8 3552.3L3405.2 3500.2L3414.6 3552.3L3424 3544L3433.4 3512.7L3442.8 3550.2L3452.2 3548.8L3461.6 3533.5L3471 3555.4L3480.4 3526.7L3489.8 3566.9L3499.2 3566.2L3508.6 3569L3518 3566.9L3527.4 3569.6L3536.8 3567.9L3546.2 3560.6L3555.6 3566.2L3565 3563.1L3574.4 3565.8L3583.8 3561.2L3593.2 3568.3L3602.6 3549.6L3612.1 3539.8L3621.5 3564.8L3630.9 3567.5L3640.3 3563.8L3649.7 3559.6L3659.1 3565.4L3668.5 3557.1L3677.9 3557.5L3687.3 3557.5L3696.7 3556L3706.1 3557.5L3715.5 3562.1L3724.9 3560.6L3734.3 3562.1L3743.7 3562.7L3753.1 3560.6L3762.5 3552.9L3771.9 3561.2L3781.3 3561.7L3790.7 3561L3800.1 3560L3809.5 3552.3L3818.9 3559.2L3828.3 3562.7L3837.8 3555.4L3847.2 3548.1L3856.6 3551.7L3866 3556.5L3875.4 3545L3884.8 3550.2L3894.2 3550.6L3903.6 3552.3L3913 3546L3922.4 3561L3931.8 3564.8L3941.2 3559.6L3950.6 3537.1L3960 3548.8L3969.4 3540.8L3978.8 3561.7L3988.2 3560.6L3997.6 3562.1L4007 3544L4016.4 3546L4025.8 3541.9L4035.2 3559.6L4044.6 3566.9L4054 3565.4L4063.5 3561L4072.9 3567.5L4082.3 3567.1L4091.7 3566.2L4101.1 3563.1L4110.5 3569.4L4119.9 3561.7L4129.3 3561.7L4138.7 3564.8L4148.1 3567.9L4157.5 3566.9L4166.9 3566.7L4176.3 3565.4L4185.7 3569" stroke="#00bcd4" stroke-width="8.4" fill="none" stroke-linejoin="round" stroke-linecap="round"/>
</g>
<path d="M3121.2 3631.4v16.7M3243.5 3631.4v16.7M3367.1 3631.4v16.7M3490.7 3631.4v16.7M3611.6 3631.4v16.7M3733.9 3631.4v16.7M3857.5 3631.4v16.7M3981.1 3631.4v16.7M4103.3 3631.4v16.7M4225.6 3631.4v16.7M3029.6 3570.7h-16.7M3029.6 3370.2h-16.7M3029.6 3169.7h-16.7M3029.6 2969.2h-16.7M3029.6 2768.7h-16.7M3029.6 2568.2h-16.7M3029.6 2367.7h-16.7" stroke="#262626" stroke-width="3.33" fill="none"/>
<rect x="3029.6" y="2313" width="1212.5" height="1318.4" fill="none" stroke="#262626" stroke-width="3.33"/>
<text transform="translate(3116.2 3752.2) rotate(-47.0)" text-anchor="middle" font-size="40.5" dy="0.355em">2022-04-01</text>
<text transform="translate(3238.5 3752.2) rotate(-47.0)" text-anchor="middle" font-size="40.5" dy="0.355em">2022-07-01</text>
<text transform="translate(3362.1 3752.2) rotate(-47.0)" text-anchor="middle" font-size="40.5" dy="0.355em">2022-10-01</text>
<text transform="translate(3485.7 3752.2) rotate(-47.0)" text-anchor="middle" font-size="40.5" dy="0.355em">2023-01-01</text>
<text transform="translate(3606.6 3752.2) rotate(-47.0)" text-anchor="middle" font-size="40.5" dy="0.355em">2023-04-01</text>
<text transform="translate(3728.9 3752.2) rotate(-47.0)" text-anchor="middle" font-size="40.5" dy="0.355em">2023-07-01</text>
<text transform="translate(3852.5 3752.2) rotate(-47.0)" text-anchor="middle" font-size="40.5" dy="0.355em">2023-10-01</text>
<text transform="translate(3976.1 3752.2) rotate(-47.0)" text-anchor="middle" font-size="40.5" dy="0.355em">2024-01-01</text>
<text transform="translate(4098.3 3752.2) rotate(-47.0)" text-anchor="middle" font-size="40.5" dy="0.355em">2024-04-01</text>
<text transform="translate(4220.6 3752.2) rotate(-47.0)" text-anchor="middle" font-size="40.5" dy="0.355em">2024-07-01</text>
<text x="3635.9" y="3916.9" text-anchor="middle" font-size="54.3" font-weight="bold">Date</text>
<text x="3635.9" y="2261.8" text-anchor="middle" font-size="60.5" font-weight="bold">Weekly Resampling</text>
<text x="2175" y="80.6" text-anchor="middle" font-size="74.0" font-weight="bold">Absolute Error of NO<tspan font-weight="normal" font-size="52.5" dx="2" dy="12.5" letter-spacing="5">2</tspan><tspan dy="-12.5" dx="3"> Measurements</tspan></text>
<text x="2175" y="2037.7" text-anchor="middle" font-size="74.0" font-weight="bold">Absolute Error of PM<tspan font-weight="normal" font-size="52.5" dx="2" dy="12.5" letter-spacing="5">10</tspan><tspan dy="-12.5" dx="3"> Measurements</tspan></text>
</svg>
</body></html>
